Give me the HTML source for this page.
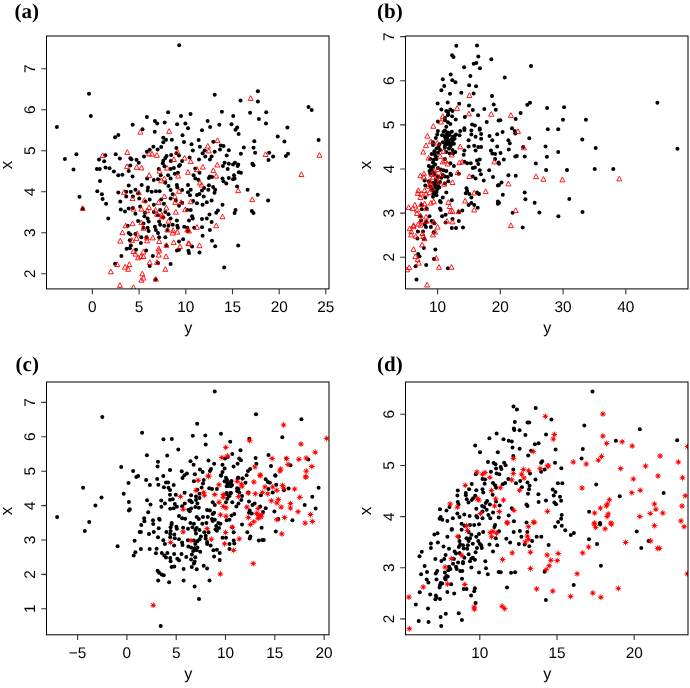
<!DOCTYPE html>
<html><head><meta charset="utf-8"><title>Scatter plots</title>
<style>
html,body{margin:0;padding:0;background:#fff}
svg{display:block;text-rendering:geometricPrecision}
.t{font-family:"Liberation Sans",Arial,Helvetica,sans-serif;font-size:15.4px;fill:#000}
.l{font-family:"Liberation Sans",Arial,Helvetica,sans-serif;font-size:17px;fill:#000}
.p{font-family:"Liberation Serif","Times New Roman",Times,serif;font-weight:bold;font-size:21px;fill:#000}
.f{fill:none;stroke:#000;stroke-width:1}
.tk{fill:none;stroke:#333;stroke-width:1.1}
.k{fill:#000}
.r{fill:none;stroke:#f00;stroke-width:0.9}
.s{fill:none;stroke:#f00;stroke-width:0.9}
.sc{fill:#f00}
</style></head><body>
<svg width="690" height="688" viewBox="0 0 690 688">
<rect width="690" height="688" fill="#fff"/>
<defs>
<clipPath id="ca"><rect x="46.5" y="36" width="282.5" height="252.9"/></clipPath>
<clipPath id="cb"><rect x="405.5" y="36" width="282.5" height="252.9"/></clipPath>
<clipPath id="cc"><rect x="46.5" y="382" width="282.5" height="252.8"/></clipPath>
<clipPath id="cd"><rect x="405.5" y="382" width="282.5" height="252.8"/></clipPath>
</defs>
<g id="panel-a">
<g clip-path="url(#ca)">
<circle class="k" cx="179.2" cy="45.3" r="2.0"/><circle class="k" cx="89" cy="93.7" r="2.0"/><circle class="k" cx="90.8" cy="115.9" r="2.0"/><circle class="k" cx="56.9" cy="127" r="2.0"/><circle class="k" cx="168.1" cy="112.3" r="2.0"/><circle class="k" cx="181" cy="115.9" r="2.0"/><circle class="k" cx="146.9" cy="117.1" r="2.0"/><circle class="k" cx="154.9" cy="120.9" r="2.0"/><circle class="k" cx="157.2" cy="123.4" r="2.0"/><circle class="k" cx="164.7" cy="122.4" r="2.0"/><circle class="k" cx="177.1" cy="124.3" r="2.0"/><circle class="k" cx="185.4" cy="123.4" r="2.0"/><circle class="k" cx="188" cy="128.2" r="2.0"/><circle class="k" cx="132.7" cy="124.7" r="2.0"/><circle class="k" cx="142.5" cy="129.3" r="2.0"/><circle class="k" cx="154.7" cy="131.8" r="2.0"/><circle class="k" cx="118.3" cy="134.9" r="2.0"/><circle class="k" cx="115.1" cy="137.2" r="2.0"/><circle class="k" cx="163.3" cy="137.7" r="2.0"/><circle class="k" cx="166" cy="139.7" r="2.0"/><circle class="k" cx="163.3" cy="142.3" r="2.0"/><circle class="k" cx="171.8" cy="139.7" r="2.0"/><circle class="k" cx="182.5" cy="135.3" r="2.0"/><circle class="k" cx="184" cy="142" r="2.0"/><circle class="k" cx="153.4" cy="146.7" r="2.0"/><circle class="k" cx="161.2" cy="147.1" r="2.0"/><circle class="k" cx="157.6" cy="149.6" r="2.0"/><circle class="k" cx="149.7" cy="149.8" r="2.0"/><circle class="k" cx="146.9" cy="151.7" r="2.0"/><circle class="k" cx="176.4" cy="148.1" r="2.0"/><circle class="k" cx="76.4" cy="154.2" r="2.0"/><circle class="k" cx="64.9" cy="159" r="2.0"/><circle class="k" cx="105.3" cy="155.2" r="2.0"/><circle class="k" cx="115.7" cy="154.2" r="2.0"/><circle class="k" cx="99" cy="159.6" r="2.0"/><circle class="k" cx="104.2" cy="161.3" r="2.0"/><circle class="k" cx="119.9" cy="158.4" r="2.0"/><circle class="k" cx="130.4" cy="158.2" r="2.0"/><circle class="k" cx="131.4" cy="159.2" r="2.0"/><circle class="k" cx="136.5" cy="159.8" r="2.0"/><circle class="k" cx="138.8" cy="162.8" r="2.0"/><circle class="k" cx="144" cy="156.5" r="2.0"/><circle class="k" cx="166.6" cy="156.1" r="2.0"/><circle class="k" cx="171.2" cy="155" r="2.0"/><circle class="k" cx="165.3" cy="158" r="2.0"/><circle class="k" cx="163.3" cy="160.7" r="2.0"/><circle class="k" cx="162.8" cy="163.2" r="2.0"/><circle class="k" cx="170.8" cy="161.1" r="2.0"/><circle class="k" cx="179" cy="155.4" r="2.0"/><circle class="k" cx="176.4" cy="153.3" r="2.0"/><circle class="k" cx="182.1" cy="161.1" r="2.0"/><circle class="k" cx="180" cy="164.9" r="2.0"/><circle class="k" cx="73.5" cy="169.5" r="2.0"/><circle class="k" cx="96.9" cy="169" r="2.0"/><circle class="k" cx="99.8" cy="169" r="2.0"/><circle class="k" cx="105.5" cy="167.4" r="2.0"/><circle class="k" cx="109.5" cy="168.2" r="2.0"/><circle class="k" cx="113.9" cy="171.6" r="2.0"/><circle class="k" cx="130.2" cy="165.5" r="2.0"/><circle class="k" cx="128.7" cy="171.1" r="2.0"/><circle class="k" cx="122.4" cy="174.7" r="2.0"/><circle class="k" cx="118.3" cy="175.3" r="2.0"/><circle class="k" cx="132.5" cy="176.4" r="2.0"/><circle class="k" cx="164.5" cy="166.3" r="2.0"/><circle class="k" cx="170.6" cy="169" r="2.0"/><circle class="k" cx="173.9" cy="168" r="2.0"/><circle class="k" cx="179" cy="165.9" r="2.0"/><circle class="k" cx="158.7" cy="169" r="2.0"/><circle class="k" cx="160.7" cy="175.3" r="2.0"/><circle class="k" cx="168.1" cy="175.3" r="2.0"/><circle class="k" cx="174.8" cy="173.7" r="2.0"/><circle class="k" cx="177.9" cy="172.8" r="2.0"/><circle class="k" cx="257.9" cy="91.2" r="2.0"/><circle class="k" cx="214.7" cy="94.7" r="2.0"/><circle class="k" cx="240.5" cy="100.4" r="2.0"/><circle class="k" cx="257.9" cy="101.4" r="2.0"/><circle class="k" cx="308.5" cy="106.9" r="2.0"/><circle class="k" cx="311.7" cy="110" r="2.0"/><circle class="k" cx="190.5" cy="114" r="2.0"/><circle class="k" cx="221.9" cy="111.7" r="2.0"/><circle class="k" cx="250.1" cy="112.7" r="2.0"/><circle class="k" cx="266.2" cy="112.3" r="2.0"/><circle class="k" cx="233.2" cy="115.9" r="2.0"/><circle class="k" cx="258.9" cy="119" r="2.0"/><circle class="k" cx="266" cy="123.4" r="2.0"/><circle class="k" cx="207.6" cy="120.9" r="2.0"/><circle class="k" cx="210.1" cy="127" r="2.0"/><circle class="k" cx="219.3" cy="124.7" r="2.0"/><circle class="k" cx="231.5" cy="124.3" r="2.0"/><circle class="k" cx="237.1" cy="127.6" r="2.0"/><circle class="k" cx="235.5" cy="129.7" r="2.0"/><circle class="k" cx="238.6" cy="133.9" r="2.0"/><circle class="k" cx="202" cy="130.3" r="2.0"/><circle class="k" cx="287.4" cy="127.6" r="2.0"/><circle class="k" cx="277.7" cy="136.6" r="2.0"/><circle class="k" cx="284.4" cy="141.4" r="2.0"/><circle class="k" cx="318.6" cy="140" r="2.0"/><circle class="k" cx="198.6" cy="140" r="2.0"/><circle class="k" cx="191.5" cy="144.3" r="2.0"/><circle class="k" cx="199.9" cy="146.7" r="2.0"/><circle class="k" cx="192.8" cy="150.6" r="2.0"/><circle class="k" cx="213.3" cy="141.8" r="2.0"/><circle class="k" cx="220.8" cy="145.6" r="2.0"/><circle class="k" cx="223.5" cy="146" r="2.0"/><circle class="k" cx="228.8" cy="150.2" r="2.0"/><circle class="k" cx="220" cy="149.6" r="2.0"/><circle class="k" cx="214.7" cy="151.7" r="2.0"/><circle class="k" cx="204.7" cy="150.6" r="2.0"/><circle class="k" cx="202.6" cy="153.3" r="2.0"/><circle class="k" cx="205.3" cy="156.5" r="2.0"/><circle class="k" cx="199" cy="159.6" r="2.0"/><circle class="k" cx="211.6" cy="156.5" r="2.0"/><circle class="k" cx="209.9" cy="159.6" r="2.0"/><circle class="k" cx="226.7" cy="155.4" r="2.0"/><circle class="k" cx="243.8" cy="147.5" r="2.0"/><circle class="k" cx="240.9" cy="153.8" r="2.0"/><circle class="k" cx="254.3" cy="141.2" r="2.0"/><circle class="k" cx="253.5" cy="147.7" r="2.0"/><circle class="k" cx="255.1" cy="152.7" r="2.0"/><circle class="k" cx="269.2" cy="152.7" r="2.0"/><circle class="k" cx="273.1" cy="156.5" r="2.0"/><circle class="k" cx="268.5" cy="160" r="2.0"/><circle class="k" cx="288" cy="153.8" r="2.0"/><circle class="k" cx="285.9" cy="156.1" r="2.0"/><circle class="k" cx="252.4" cy="163.8" r="2.0"/><circle class="k" cx="253.5" cy="165.3" r="2.0"/><circle class="k" cx="224.6" cy="162.8" r="2.0"/><circle class="k" cx="228.8" cy="163.8" r="2.0"/><circle class="k" cx="233" cy="164.4" r="2.0"/><circle class="k" cx="235" cy="162.8" r="2.0"/><circle class="k" cx="238.2" cy="164.4" r="2.0"/><circle class="k" cx="237.6" cy="166.1" r="2.0"/><circle class="k" cx="222.9" cy="165.9" r="2.0"/><circle class="k" cx="227.7" cy="169" r="2.0"/><circle class="k" cx="238.8" cy="172.2" r="2.0"/><circle class="k" cx="240.9" cy="172.8" r="2.0"/><circle class="k" cx="234" cy="175.3" r="2.0"/><circle class="k" cx="195.3" cy="168.6" r="2.0"/><circle class="k" cx="199.5" cy="172.8" r="2.0"/><circle class="k" cx="193.6" cy="175.3" r="2.0"/><circle class="k" cx="209.9" cy="176.4" r="2.0"/><circle class="k" cx="189.6" cy="157.5" r="2.0"/><circle class="k" cx="82.7" cy="208.7" r="2.0"/><circle class="k" cx="100" cy="181.1" r="2.0"/><circle class="k" cx="79.5" cy="196.8" r="2.0"/><circle class="k" cx="97.3" cy="191.2" r="2.0"/><circle class="k" cx="101.9" cy="194.3" r="2.0"/><circle class="k" cx="102.6" cy="198.9" r="2.0"/><circle class="k" cx="106.1" cy="203.7" r="2.0"/><circle class="k" cx="108.2" cy="218.4" r="2.0"/><circle class="k" cx="118.3" cy="192.6" r="2.0"/><circle class="k" cx="120.3" cy="201.6" r="2.0"/><circle class="k" cx="120.8" cy="209.6" r="2.0"/><circle class="k" cx="125" cy="211.5" r="2.0"/><circle class="k" cx="128.7" cy="185.5" r="2.0"/><circle class="k" cx="126.2" cy="191.8" r="2.0"/><circle class="k" cx="130.8" cy="191.8" r="2.0"/><circle class="k" cx="135.4" cy="189.7" r="2.0"/><circle class="k" cx="138.1" cy="193.3" r="2.0"/><circle class="k" cx="141.7" cy="184.9" r="2.0"/><circle class="k" cx="147.1" cy="178.6" r="2.0"/><circle class="k" cx="148" cy="187.6" r="2.0"/><circle class="k" cx="147.6" cy="190.5" r="2.0"/><circle class="k" cx="151.7" cy="191.8" r="2.0"/><circle class="k" cx="155.9" cy="191.2" r="2.0"/><circle class="k" cx="159.7" cy="191.2" r="2.0"/><circle class="k" cx="153.8" cy="180.1" r="2.0"/><circle class="k" cx="158" cy="179.2" r="2.0"/><circle class="k" cx="165.3" cy="182.8" r="2.0"/><circle class="k" cx="168.5" cy="185.9" r="2.0"/><circle class="k" cx="170.6" cy="190.1" r="2.0"/><circle class="k" cx="172.7" cy="194.3" r="2.0"/><circle class="k" cx="176.9" cy="184.9" r="2.0"/><circle class="k" cx="177.3" cy="187.6" r="2.0"/><circle class="k" cx="182.1" cy="190.1" r="2.0"/><circle class="k" cx="188" cy="184.9" r="2.0"/><circle class="k" cx="188" cy="192.2" r="2.0"/><circle class="k" cx="126.2" cy="196.4" r="2.0"/><circle class="k" cx="132.9" cy="196.4" r="2.0"/><circle class="k" cx="139.2" cy="198.5" r="2.0"/><circle class="k" cx="145.5" cy="201.6" r="2.0"/><circle class="k" cx="149.7" cy="199.5" r="2.0"/><circle class="k" cx="153.8" cy="204.8" r="2.0"/><circle class="k" cx="161.2" cy="199.5" r="2.0"/><circle class="k" cx="163.9" cy="203.7" r="2.0"/><circle class="k" cx="170.6" cy="198.5" r="2.0"/><circle class="k" cx="175.8" cy="200.6" r="2.0"/><circle class="k" cx="179" cy="205.8" r="2.0"/><circle class="k" cx="182.1" cy="202.7" r="2.0"/><circle class="k" cx="128.7" cy="208.5" r="2.0"/><circle class="k" cx="132.9" cy="207.9" r="2.0"/><circle class="k" cx="135.4" cy="213.8" r="2.0"/><circle class="k" cx="140.2" cy="206.4" r="2.0"/><circle class="k" cx="145" cy="212.7" r="2.0"/><circle class="k" cx="144.4" cy="216.3" r="2.0"/><circle class="k" cx="147.6" cy="218.4" r="2.0"/><circle class="k" cx="148.6" cy="221.5" r="2.0"/><circle class="k" cx="143.4" cy="223.6" r="2.0"/><circle class="k" cx="147.6" cy="227.8" r="2.0"/><circle class="k" cx="148.6" cy="230.9" r="2.0"/><circle class="k" cx="143.4" cy="227.8" r="2.0"/><circle class="k" cx="138.1" cy="221.1" r="2.0"/><circle class="k" cx="141.3" cy="237.2" r="2.0"/><circle class="k" cx="127.7" cy="225.7" r="2.0"/><circle class="k" cx="128.7" cy="233" r="2.0"/><circle class="k" cx="130.4" cy="234.5" r="2.0"/><circle class="k" cx="135.4" cy="234.1" r="2.0"/><circle class="k" cx="129.8" cy="240.3" r="2.0"/><circle class="k" cx="130.8" cy="245.6" r="2.0"/><circle class="k" cx="126.6" cy="248.7" r="2.0"/><circle class="k" cx="129.8" cy="248.3" r="2.0"/><circle class="k" cx="136" cy="249.8" r="2.0"/><circle class="k" cx="121.4" cy="256" r="2.0"/><circle class="k" cx="115.1" cy="263.8" r="2.0"/><circle class="k" cx="140.9" cy="242.9" r="2.0"/><circle class="k" cx="146.5" cy="237.2" r="2.0"/><circle class="k" cx="146.1" cy="250.4" r="2.0"/><circle class="k" cx="152.8" cy="256" r="2.0"/><circle class="k" cx="149.7" cy="266.1" r="2.0"/><circle class="k" cx="158" cy="263" r="2.0"/><circle class="k" cx="170.6" cy="264" r="2.0"/><circle class="k" cx="155.5" cy="279.5" r="2.0"/><circle class="k" cx="153.8" cy="212.1" r="2.0"/><circle class="k" cx="158" cy="215.2" r="2.0"/><circle class="k" cx="160.1" cy="210" r="2.0"/><circle class="k" cx="163.3" cy="217.3" r="2.0"/><circle class="k" cx="165.3" cy="212.1" r="2.0"/><circle class="k" cx="168.5" cy="214.2" r="2.0"/><circle class="k" cx="170.6" cy="218.4" r="2.0"/><circle class="k" cx="159.1" cy="221.5" r="2.0"/><circle class="k" cx="160.1" cy="224.7" r="2.0"/><circle class="k" cx="154.9" cy="226.7" r="2.0"/><circle class="k" cx="155.9" cy="229.9" r="2.0"/><circle class="k" cx="158" cy="233" r="2.0"/><circle class="k" cx="159.1" cy="237.2" r="2.0"/><circle class="k" cx="164.3" cy="225.7" r="2.0"/><circle class="k" cx="167.4" cy="229.9" r="2.0"/><circle class="k" cx="165.3" cy="237.2" r="2.0"/><circle class="k" cx="168.5" cy="225.7" r="2.0"/><circle class="k" cx="172.7" cy="224.7" r="2.0"/><circle class="k" cx="176.9" cy="220.5" r="2.0"/><circle class="k" cx="177.3" cy="225.7" r="2.0"/><circle class="k" cx="177.9" cy="227.8" r="2.0"/><circle class="k" cx="184.2" cy="226.7" r="2.0"/><circle class="k" cx="187.3" cy="227.8" r="2.0"/><circle class="k" cx="166.4" cy="245.6" r="2.0"/><circle class="k" cx="179" cy="241.4" r="2.0"/><circle class="k" cx="183.1" cy="239.3" r="2.0"/><circle class="k" cx="176.9" cy="250.4" r="2.0"/><circle class="k" cx="179" cy="249.8" r="2.0"/><circle class="k" cx="188.4" cy="250.8" r="2.0"/><circle class="k" cx="188" cy="230.9" r="2.0"/><circle class="k" cx="170.6" cy="178.6" r="2.0"/><circle class="k" cx="187.3" cy="210" r="2.0"/><circle class="k" cx="195.3" cy="178.6" r="2.0"/><circle class="k" cx="198.4" cy="179.7" r="2.0"/><circle class="k" cx="208.9" cy="178" r="2.0"/><circle class="k" cx="212" cy="177.1" r="2.0"/><circle class="k" cx="222.5" cy="178.6" r="2.0"/><circle class="k" cx="223.5" cy="181.3" r="2.0"/><circle class="k" cx="226.3" cy="183.4" r="2.0"/><circle class="k" cx="228.8" cy="178" r="2.0"/><circle class="k" cx="233" cy="179.2" r="2.0"/><circle class="k" cx="234.6" cy="178.6" r="2.0"/><circle class="k" cx="208.9" cy="185.3" r="2.0"/><circle class="k" cx="213.1" cy="187" r="2.0"/><circle class="k" cx="215.2" cy="189.7" r="2.0"/><circle class="k" cx="214.5" cy="192.8" r="2.0"/><circle class="k" cx="208.3" cy="189.7" r="2.0"/><circle class="k" cx="204.1" cy="188" r="2.0"/><circle class="k" cx="202" cy="190.5" r="2.0"/><circle class="k" cx="199.5" cy="193.9" r="2.0"/><circle class="k" cx="197" cy="194.9" r="2.0"/><circle class="k" cx="203.7" cy="196.4" r="2.0"/><circle class="k" cx="190.7" cy="189.7" r="2.0"/><circle class="k" cx="190" cy="195.3" r="2.0"/><circle class="k" cx="237.1" cy="186.6" r="2.0"/><circle class="k" cx="247.6" cy="189.7" r="2.0"/><circle class="k" cx="257.7" cy="194.7" r="2.0"/><circle class="k" cx="268.1" cy="200.6" r="2.0"/><circle class="k" cx="193.2" cy="201" r="2.0"/><circle class="k" cx="197" cy="203.3" r="2.0"/><circle class="k" cx="202.6" cy="204.8" r="2.0"/><circle class="k" cx="206.8" cy="202.3" r="2.0"/><circle class="k" cx="211.6" cy="200.6" r="2.0"/><circle class="k" cx="222.5" cy="204.8" r="2.0"/><circle class="k" cx="190.7" cy="210" r="2.0"/><circle class="k" cx="217.9" cy="210.6" r="2.0"/><circle class="k" cx="216.2" cy="212.7" r="2.0"/><circle class="k" cx="235.5" cy="210" r="2.0"/><circle class="k" cx="234.6" cy="213.1" r="2.0"/><circle class="k" cx="251.8" cy="211" r="2.0"/><circle class="k" cx="253.5" cy="213.1" r="2.0"/><circle class="k" cx="209.5" cy="214.6" r="2.0"/><circle class="k" cx="192.1" cy="216.3" r="2.0"/><circle class="k" cx="192.8" cy="218.4" r="2.0"/><circle class="k" cx="202" cy="219" r="2.0"/><circle class="k" cx="206.8" cy="218.4" r="2.0"/><circle class="k" cx="211.6" cy="221.9" r="2.0"/><circle class="k" cx="209.9" cy="229.9" r="2.0"/><circle class="k" cx="202" cy="227.2" r="2.0"/><circle class="k" cx="194.2" cy="227.8" r="2.0"/><circle class="k" cx="202.6" cy="235.7" r="2.0"/><circle class="k" cx="212" cy="240.8" r="2.0"/><circle class="k" cx="215.2" cy="246.2" r="2.0"/><circle class="k" cx="238.2" cy="245.6" r="2.0"/><circle class="k" cx="192.1" cy="246.6" r="2.0"/><circle class="k" cx="199.5" cy="252.5" r="2.0"/><circle class="k" cx="224.2" cy="267.6" r="2.0"/><circle class="k" cx="189" cy="220.5" r="2.0"/><circle class="k" cx="189" cy="252.9" r="2.0"/>
<path class="r" d="M140.4 129.4l2.5 4.7h-5z"/><path class="r" d="M169.1 128.6l2.5 4.7h-5z"/><path class="r" d="M102.6 152.8l2.5 4.7h-5z"/><path class="r" d="M127.3 149.7l2.5 4.7h-5z"/><path class="r" d="M149 151.2l2.5 4.7h-5z"/><path class="r" d="M152 151.4l2.5 4.7h-5z"/><path class="r" d="M156.8 152.6l2.5 4.7h-5z"/><path class="r" d="M177.5 149.3l2.5 4.7h-5z"/><path class="r" d="M173.9 156.8l2.5 4.7h-5z"/><path class="r" d="M184.6 155.4l2.5 4.7h-5z"/><path class="r" d="M127 163.9l2.5 4.7h-5z"/><path class="r" d="M136.7 164.6l2.5 4.7h-5z"/><path class="r" d="M141.5 165.2l2.5 4.7h-5z"/><path class="r" d="M167 165.4l2.5 4.7h-5z"/><path class="r" d="M159.5 168.5l2.5 4.7h-5z"/><path class="r" d="M149.2 172.7l2.5 4.7h-5z"/><path class="r" d="M178.1 173.4l2.5 4.7h-5z"/><path class="r" d="M188 169.6l2.5 4.7h-5z"/><path class="r" d="M250.7 95.7l2.5 4.7h-5z"/><path class="r" d="M217.5 137.8l2.5 4.7h-5z"/><path class="r" d="M207.8 143.4l2.5 4.7h-5z"/><path class="r" d="M208.9 148.2l2.5 4.7h-5z"/><path class="r" d="M265.6 151.8l2.5 4.7h-5z"/><path class="r" d="M319.4 152.6l2.5 4.7h-5z"/><path class="r" d="M190.7 158.9l2.5 4.7h-5z"/><path class="r" d="M202.8 164.4l2.5 4.7h-5z"/><path class="r" d="M197 166.9l2.5 4.7h-5z"/><path class="r" d="M217.3 162.3l2.5 4.7h-5z"/><path class="r" d="M213.3 167.9l2.5 4.7h-5z"/><path class="r" d="M216.2 173.4l2.5 4.7h-5z"/><path class="r" d="M82.7 205.7l2.5 4.7h-5z"/><path class="r" d="M124.1 189.6l2.5 4.7h-5z"/><path class="r" d="M132.5 195.9l2.5 4.7h-5z"/><path class="r" d="M138.8 190l2.5 4.7h-5z"/><path class="r" d="M144.4 197.6l2.5 4.7h-5z"/><path class="r" d="M161.2 178.1l2.5 4.7h-5z"/><path class="r" d="M164.3 176l2.5 4.7h-5z"/><path class="r" d="M179 188.6l2.5 4.7h-5z"/><path class="r" d="M164.3 193.8l2.5 4.7h-5z"/><path class="r" d="M174.8 193.8l2.5 4.7h-5z"/><path class="r" d="M158.7 199.7l2.5 4.7h-5z"/><path class="r" d="M166.4 205.3l2.5 4.7h-5z"/><path class="r" d="M175.2 199.7l2.5 4.7h-5z"/><path class="r" d="M181 199.7l2.5 4.7h-5z"/><path class="r" d="M185.2 207l2.5 4.7h-5z"/><path class="r" d="M133.5 206.4l2.5 4.7h-5z"/><path class="r" d="M141.3 206.4l2.5 4.7h-5z"/><path class="r" d="M147.1 208l2.5 4.7h-5z"/><path class="r" d="M149 204.9l2.5 4.7h-5z"/><path class="r" d="M155.5 207.4l2.5 4.7h-5z"/><path class="r" d="M157 211.6l2.5 4.7h-5z"/><path class="r" d="M161.8 212.2l2.5 4.7h-5z"/><path class="r" d="M162.2 214.3l2.5 4.7h-5z"/><path class="r" d="M175.8 209.5l2.5 4.7h-5z"/><path class="r" d="M168.5 218.5l2.5 4.7h-5z"/><path class="r" d="M132.5 221l2.5 4.7h-5z"/><path class="r" d="M125.6 223.1l2.5 4.7h-5z"/><path class="r" d="M141.3 220l2.5 4.7h-5z"/><path class="r" d="M143.4 225.6l2.5 4.7h-5z"/><path class="r" d="M122.4 230l2.5 4.7h-5z"/><path class="r" d="M137.1 231.1l2.5 4.7h-5z"/><path class="r" d="M120.3 238.4l2.5 4.7h-5z"/><path class="r" d="M131.9 237.7l2.5 4.7h-5z"/><path class="r" d="M136.5 235.7l2.5 4.7h-5z"/><path class="r" d="M146.9 235.2l2.5 4.7h-5z"/><path class="r" d="M147.1 238.2l2.5 4.7h-5z"/><path class="r" d="M152.8 235.2l2.5 4.7h-5z"/><path class="r" d="M159.1 238.8l2.5 4.7h-5z"/><path class="r" d="M166.4 242.6l2.5 4.7h-5z"/><path class="r" d="M173.7 239.8l2.5 4.7h-5z"/><path class="r" d="M180 244l2.5 4.7h-5z"/><path class="r" d="M172.7 230.4l2.5 4.7h-5z"/><path class="r" d="M177.3 229.4l2.5 4.7h-5z"/><path class="r" d="M167.4 227.3l2.5 4.7h-5z"/><path class="r" d="M173.1 227.7l2.5 4.7h-5z"/><path class="r" d="M187.3 227.3l2.5 4.7h-5z"/><path class="r" d="M188.4 240.9l2.5 4.7h-5z"/><path class="r" d="M133.5 248.8l2.5 4.7h-5z"/><path class="r" d="M135.4 251.4l2.5 4.7h-5z"/><path class="r" d="M143.4 249.3l2.5 4.7h-5z"/><path class="r" d="M140.9 253.9l2.5 4.7h-5z"/><path class="r" d="M138.1 255.1l2.5 4.7h-5z"/><path class="r" d="M143.4 253.9l2.5 4.7h-5z"/><path class="r" d="M158.7 246.1l2.5 4.7h-5z"/><path class="r" d="M159.1 248.2l2.5 4.7h-5z"/><path class="r" d="M158.7 252.4l2.5 4.7h-5z"/><path class="r" d="M166 253.9l2.5 4.7h-5z"/><path class="r" d="M149.7 259.7l2.5 4.7h-5z"/><path class="r" d="M157 259.7l2.5 4.7h-5z"/><path class="r" d="M117.2 261.8l2.5 4.7h-5z"/><path class="r" d="M129.3 261.8l2.5 4.7h-5z"/><path class="r" d="M125 264.5l2.5 4.7h-5z"/><path class="r" d="M128.1 266.6l2.5 4.7h-5z"/><path class="r" d="M110.9 269.1l2.5 4.7h-5z"/><path class="r" d="M165.3 266.6l2.5 4.7h-5z"/><path class="r" d="M142.3 271.2l2.5 4.7h-5z"/><path class="r" d="M143.4 275.4l2.5 4.7h-5z"/><path class="r" d="M141.3 277.5l2.5 4.7h-5z"/><path class="r" d="M155.9 276.5l2.5 4.7h-5z"/><path class="r" d="M119.9 282.7l2.5 4.7h-5z"/><path class="r" d="M133.5 284.8l2.5 4.7h-5z"/><path class="r" d="M301.4 171.8l2.5 4.7h-5z"/><path class="r" d="M238.2 187.9l2.5 4.7h-5z"/><path class="r" d="M252.2 196.9l2.5 4.7h-5z"/><path class="r" d="M199.9 180.2l2.5 4.7h-5z"/><path class="r" d="M201.6 182.3l2.5 4.7h-5z"/><path class="r" d="M190.7 199l2.5 4.7h-5z"/><path class="r" d="M222.5 214.1l2.5 4.7h-5z"/><path class="r" d="M216.2 223.1l2.5 4.7h-5z"/><path class="r" d="M197 224.6l2.5 4.7h-5z"/><path class="r" d="M199.5 243l2.5 4.7h-5z"/><path class="r" d="M189 240.9l2.5 4.7h-5z"/><path class="r" d="M189 228.3l2.5 4.7h-5z"/>
</g>
<rect class="f" x="46.5" y="36" width="282.5" height="252.9"/>
<path class="tk" d="M92.4 288.9v5.3M139.1 288.9v5.3M185.8 288.9v5.3M232.5 288.9v5.3M279.2 288.9v5.3M325.8 288.9v5.3M46.5 273.7h-5.3M46.5 232.7h-5.3M46.5 191.7h-5.3M46.5 150.7h-5.3M46.5 109.7h-5.3M46.5 68.7h-5.3"/>
<text class="t" x="92.4" y="311.8" text-anchor="middle">0</text><text class="t" x="139.1" y="311.8" text-anchor="middle">5</text><text class="t" x="185.8" y="311.8" text-anchor="middle">10</text><text class="t" x="232.5" y="311.8" text-anchor="middle">15</text><text class="t" x="279.2" y="311.8" text-anchor="middle">20</text><text class="t" x="325.8" y="311.8" text-anchor="middle">25</text>
<text class="t" transform="translate(35.1 273.7) rotate(-90)" text-anchor="middle">2</text><text class="t" transform="translate(35.1 232.7) rotate(-90)" text-anchor="middle">3</text><text class="t" transform="translate(35.1 191.7) rotate(-90)" text-anchor="middle">4</text><text class="t" transform="translate(35.1 150.7) rotate(-90)" text-anchor="middle">5</text><text class="t" transform="translate(35.1 109.7) rotate(-90)" text-anchor="middle">6</text><text class="t" transform="translate(35.1 68.7) rotate(-90)" text-anchor="middle">7</text>
<text class="l" style="font-size:16.2px" x="188.25" y="333.4" text-anchor="middle">y</text>
<text class="l" transform="translate(11.9 164.95) rotate(-90)" text-anchor="middle">x</text>
<text class="p" x="14.4" y="17.6">(a)</text>
</g>
<g id="panel-b">
<g clip-path="url(#cb)">
<circle class="k" cx="456.3" cy="45.8" r="2.0"/><circle class="k" cx="477" cy="45.4" r="2.0"/><circle class="k" cx="452.1" cy="55.3" r="2.0"/><circle class="k" cx="453.5" cy="57" r="2.0"/><circle class="k" cx="478.3" cy="56.4" r="2.0"/><circle class="k" cx="491.3" cy="59.2" r="2.0"/><circle class="k" cx="473.7" cy="63.7" r="2.0"/><circle class="k" cx="476.3" cy="63" r="2.0"/><circle class="k" cx="464.1" cy="67.2" r="2.0"/><circle class="k" cx="479.9" cy="68.3" r="2.0"/><circle class="k" cx="450.7" cy="74.6" r="2.0"/><circle class="k" cx="470.4" cy="76" r="2.0"/><circle class="k" cx="442.8" cy="79.3" r="2.0"/><circle class="k" cx="452.3" cy="80.2" r="2.0"/><circle class="k" cx="455.5" cy="82.3" r="2.0"/><circle class="k" cx="444.2" cy="86" r="2.0"/><circle class="k" cx="469.1" cy="85.3" r="2.0"/><circle class="k" cx="476.1" cy="86.3" r="2.0"/><circle class="k" cx="441.4" cy="90.2" r="2.0"/><circle class="k" cx="450" cy="93.8" r="2.0"/><circle class="k" cx="461.3" cy="92.7" r="2.0"/><circle class="k" cx="473.6" cy="93.6" r="2.0"/><circle class="k" cx="492" cy="96.1" r="2.0"/><circle class="k" cx="437.6" cy="103.5" r="2.0"/><circle class="k" cx="447.7" cy="102.5" r="2.0"/><circle class="k" cx="459.2" cy="103.7" r="2.0"/><circle class="k" cx="469" cy="105.6" r="2.0"/><circle class="k" cx="493.7" cy="104.4" r="2.0"/><circle class="k" cx="441.4" cy="109.5" r="2.0"/><circle class="k" cx="450.4" cy="109.5" r="2.0"/><circle class="k" cx="446.3" cy="111.1" r="2.0"/><circle class="k" cx="447.9" cy="111.8" r="2.0"/><circle class="k" cx="452.5" cy="111.1" r="2.0"/><circle class="k" cx="472.8" cy="110" r="2.0"/><circle class="k" cx="484.3" cy="109" r="2.0"/><circle class="k" cx="495.8" cy="109.7" r="2.0"/><circle class="k" cx="447.7" cy="115.3" r="2.0"/><circle class="k" cx="452.1" cy="116.3" r="2.0"/><circle class="k" cx="464.8" cy="117.1" r="2.0"/><circle class="k" cx="478.1" cy="115.3" r="2.0"/><circle class="k" cx="455.7" cy="119.5" r="2.0"/><circle class="k" cx="486.7" cy="122" r="2.0"/><circle class="k" cx="444.9" cy="120.2" r="2.0"/><circle class="k" cx="447.9" cy="122.3" r="2.0"/><circle class="k" cx="450.4" cy="124" r="2.0"/><circle class="k" cx="437.9" cy="121.6" r="2.0"/><circle class="k" cx="472.1" cy="124.4" r="2.0"/><circle class="k" cx="474.9" cy="125.4" r="2.0"/><circle class="k" cx="498.6" cy="120.6" r="2.0"/><circle class="k" cx="446.3" cy="126.8" r="2.0"/><circle class="k" cx="464.4" cy="128.3" r="2.0"/><circle class="k" cx="479.7" cy="128.6" r="2.0"/><circle class="k" cx="448.3" cy="113.9" r="2.0"/><circle class="k" cx="444.9" cy="118.1" r="2.0"/><circle class="k" cx="443.5" cy="131.8" r="2.0"/><circle class="k" cx="446.3" cy="134.6" r="2.0"/><circle class="k" cx="449.7" cy="133.2" r="2.0"/><circle class="k" cx="447" cy="138.1" r="2.0"/><circle class="k" cx="449" cy="142.3" r="2.0"/><circle class="k" cx="444.9" cy="145.7" r="2.0"/><circle class="k" cx="450.4" cy="146.4" r="2.0"/><circle class="k" cx="452.5" cy="140.9" r="2.0"/><circle class="k" cx="454.6" cy="136" r="2.0"/><circle class="k" cx="442.8" cy="142.3" r="2.0"/><circle class="k" cx="439.3" cy="144.3" r="2.0"/><circle class="k" cx="438.6" cy="147.1" r="2.0"/><circle class="k" cx="434.4" cy="151.3" r="2.0"/><circle class="k" cx="435.8" cy="156.2" r="2.0"/><circle class="k" cx="433" cy="162.5" r="2.0"/><circle class="k" cx="435.1" cy="164.6" r="2.0"/><circle class="k" cx="431.6" cy="169.5" r="2.0"/><circle class="k" cx="433" cy="172.3" r="2.0"/><circle class="k" cx="435.8" cy="179.9" r="2.0"/><circle class="k" cx="434.4" cy="184.8" r="2.0"/><circle class="k" cx="437.2" cy="189" r="2.0"/><circle class="k" cx="434.4" cy="192.5" r="2.0"/><circle class="k" cx="433.7" cy="194.6" r="2.0"/><circle class="k" cx="431.6" cy="189" r="2.0"/><circle class="k" cx="437.9" cy="185.5" r="2.0"/><circle class="k" cx="441.4" cy="177.8" r="2.0"/><circle class="k" cx="444.9" cy="176.4" r="2.0"/><circle class="k" cx="446.3" cy="170.9" r="2.0"/><circle class="k" cx="437.9" cy="131.1" r="2.0"/><circle class="k" cx="444.9" cy="130.4" r="2.0"/><circle class="k" cx="447.7" cy="132.5" r="2.0"/><circle class="k" cx="451.8" cy="131.8" r="2.0"/><circle class="k" cx="460.2" cy="131.1" r="2.0"/><circle class="k" cx="464.4" cy="130.1" r="2.0"/><circle class="k" cx="471.4" cy="130.4" r="2.0"/><circle class="k" cx="479.7" cy="129.7" r="2.0"/><circle class="k" cx="437.2" cy="134.6" r="2.0"/><circle class="k" cx="442.1" cy="135.3" r="2.0"/><circle class="k" cx="444.9" cy="136.7" r="2.0"/><circle class="k" cx="449" cy="135.3" r="2.0"/><circle class="k" cx="452.5" cy="136.7" r="2.0"/><circle class="k" cx="456" cy="134.6" r="2.0"/><circle class="k" cx="459.5" cy="135.3" r="2.0"/><circle class="k" cx="471.4" cy="134.6" r="2.0"/><circle class="k" cx="481.1" cy="133.9" r="2.0"/><circle class="k" cx="489.5" cy="136" r="2.0"/><circle class="k" cx="497.2" cy="134.3" r="2.0"/><circle class="k" cx="435.8" cy="138.1" r="2.0"/><circle class="k" cx="445.6" cy="139.5" r="2.0"/><circle class="k" cx="447.7" cy="140.9" r="2.0"/><circle class="k" cx="451.1" cy="139.5" r="2.0"/><circle class="k" cx="454.6" cy="138.8" r="2.0"/><circle class="k" cx="468.6" cy="140.2" r="2.0"/><circle class="k" cx="475.6" cy="136.7" r="2.0"/><circle class="k" cx="481.1" cy="138.8" r="2.0"/><circle class="k" cx="492.3" cy="140.2" r="2.0"/><circle class="k" cx="433" cy="142.3" r="2.0"/><circle class="k" cx="445.6" cy="143" r="2.0"/><circle class="k" cx="447.7" cy="144.3" r="2.0"/><circle class="k" cx="451.1" cy="144.3" r="2.0"/><circle class="k" cx="453.9" cy="143.7" r="2.0"/><circle class="k" cx="468.6" cy="146.4" r="2.0"/><circle class="k" cx="474.2" cy="145.7" r="2.0"/><circle class="k" cx="478.3" cy="147.1" r="2.0"/><circle class="k" cx="481.1" cy="146.9" r="2.0"/><circle class="k" cx="497.2" cy="146.4" r="2.0"/><circle class="k" cx="433" cy="145" r="2.0"/><circle class="k" cx="436.5" cy="148.5" r="2.0"/><circle class="k" cx="440" cy="149.9" r="2.0"/><circle class="k" cx="444.9" cy="147.8" r="2.0"/><circle class="k" cx="449" cy="148.5" r="2.0"/><circle class="k" cx="452.5" cy="149.9" r="2.0"/><circle class="k" cx="464.4" cy="150.6" r="2.0"/><circle class="k" cx="475.6" cy="150.6" r="2.0"/><circle class="k" cx="490.9" cy="150.6" r="2.0"/><circle class="k" cx="492.3" cy="153.4" r="2.0"/><circle class="k" cx="495.1" cy="154.1" r="2.0"/><circle class="k" cx="431.6" cy="154.1" r="2.0"/><circle class="k" cx="434.4" cy="154.1" r="2.0"/><circle class="k" cx="437.9" cy="152.7" r="2.0"/><circle class="k" cx="446.3" cy="152" r="2.0"/><circle class="k" cx="449.7" cy="153.4" r="2.0"/><circle class="k" cx="453.2" cy="153.4" r="2.0"/><circle class="k" cx="455.3" cy="152" r="2.0"/><circle class="k" cx="463.7" cy="154.8" r="2.0"/><circle class="k" cx="430.2" cy="159" r="2.0"/><circle class="k" cx="433.7" cy="159.7" r="2.0"/><circle class="k" cx="436.5" cy="159" r="2.0"/><circle class="k" cx="444.9" cy="159" r="2.0"/><circle class="k" cx="450.4" cy="163.2" r="2.0"/><circle class="k" cx="453.9" cy="166" r="2.0"/><circle class="k" cx="464.4" cy="161.8" r="2.0"/><circle class="k" cx="467.2" cy="163.2" r="2.0"/><circle class="k" cx="470.7" cy="163.2" r="2.0"/><circle class="k" cx="477" cy="160.4" r="2.0"/><circle class="k" cx="479.7" cy="159.4" r="2.0"/><circle class="k" cx="478.3" cy="163.9" r="2.0"/><circle class="k" cx="495.1" cy="159" r="2.0"/><circle class="k" cx="498.6" cy="162.5" r="2.0"/><circle class="k" cx="428.8" cy="166" r="2.0"/><circle class="k" cx="430.9" cy="167.4" r="2.0"/><circle class="k" cx="433" cy="166.7" r="2.0"/><circle class="k" cx="437.9" cy="168.1" r="2.0"/><circle class="k" cx="440.7" cy="169.5" r="2.0"/><circle class="k" cx="443.5" cy="170.2" r="2.0"/><circle class="k" cx="472.8" cy="168.1" r="2.0"/><circle class="k" cx="474.9" cy="167.4" r="2.0"/><circle class="k" cx="479.7" cy="170.2" r="2.0"/><circle class="k" cx="489.2" cy="170.2" r="2.0"/><circle class="k" cx="429.5" cy="170.9" r="2.0"/><circle class="k" cx="430.2" cy="173.7" r="2.0"/><circle class="k" cx="434.4" cy="174.3" r="2.0"/><circle class="k" cx="437.9" cy="176.4" r="2.0"/><circle class="k" cx="442.8" cy="175" r="2.0"/><circle class="k" cx="447.7" cy="177.1" r="2.0"/><circle class="k" cx="450.4" cy="173.7" r="2.0"/><circle class="k" cx="451.1" cy="175" r="2.0"/><circle class="k" cx="458.8" cy="173.7" r="2.0"/><circle class="k" cx="472.8" cy="176.4" r="2.0"/><circle class="k" cx="475.6" cy="178.5" r="2.0"/><circle class="k" cx="480.9" cy="174.3" r="2.0"/><circle class="k" cx="483.7" cy="180.6" r="2.0"/><circle class="k" cx="493" cy="177.1" r="2.0"/><circle class="k" cx="424.6" cy="180.6" r="2.0"/><circle class="k" cx="428.8" cy="181.3" r="2.0"/><circle class="k" cx="433" cy="182.7" r="2.0"/><circle class="k" cx="436.5" cy="183.4" r="2.0"/><circle class="k" cx="440" cy="182" r="2.0"/><circle class="k" cx="444.9" cy="183.4" r="2.0"/><circle class="k" cx="448.3" cy="181.3" r="2.0"/><circle class="k" cx="425.3" cy="185.5" r="2.0"/><circle class="k" cx="430.2" cy="186.2" r="2.0"/><circle class="k" cx="435.1" cy="186.9" r="2.0"/><circle class="k" cx="439.3" cy="187.6" r="2.0"/><circle class="k" cx="466.5" cy="188.3" r="2.0"/><circle class="k" cx="467.2" cy="191.1" r="2.0"/><circle class="k" cx="465.8" cy="193.2" r="2.0"/><circle class="k" cx="469.3" cy="193.9" r="2.0"/><circle class="k" cx="471.4" cy="197.4" r="2.0"/><circle class="k" cx="477" cy="192.5" r="2.0"/><circle class="k" cx="479" cy="193.9" r="2.0"/><circle class="k" cx="433" cy="190.4" r="2.0"/><circle class="k" cx="436.5" cy="191.8" r="2.0"/><circle class="k" cx="435.8" cy="193.9" r="2.0"/><circle class="k" cx="446.3" cy="192.5" r="2.0"/><circle class="k" cx="425.3" cy="197.4" r="2.0"/><circle class="k" cx="433" cy="196.7" r="2.0"/><circle class="k" cx="436.5" cy="195.3" r="2.0"/><circle class="k" cx="442.8" cy="197.4" r="2.0"/><circle class="k" cx="440" cy="200.9" r="2.0"/><circle class="k" cx="440.7" cy="202.3" r="2.0"/><circle class="k" cx="451.8" cy="200.2" r="2.0"/><circle class="k" cx="471.4" cy="203" r="2.0"/><circle class="k" cx="468.6" cy="205" r="2.0"/><circle class="k" cx="474.2" cy="205" r="2.0"/><circle class="k" cx="477.7" cy="207.8" r="2.0"/><circle class="k" cx="497.9" cy="185.5" r="2.0"/><circle class="k" cx="497.9" cy="201.6" r="2.0"/><circle class="k" cx="497.9" cy="203.7" r="2.0"/><circle class="k" cx="421.8" cy="205" r="2.0"/><circle class="k" cx="426.7" cy="208.5" r="2.0"/><circle class="k" cx="421.8" cy="209.2" r="2.0"/><circle class="k" cx="440" cy="208.5" r="2.0"/><circle class="k" cx="440.7" cy="209.9" r="2.0"/><circle class="k" cx="462.3" cy="210.6" r="2.0"/><circle class="k" cx="458.8" cy="212" r="2.0"/><circle class="k" cx="442.1" cy="216.2" r="2.0"/><circle class="k" cx="445.6" cy="214.8" r="2.0"/><circle class="k" cx="452.5" cy="219" r="2.0"/><circle class="k" cx="458.8" cy="221.1" r="2.0"/><circle class="k" cx="429.5" cy="216.2" r="2.0"/><circle class="k" cx="420.4" cy="216.2" r="2.0"/><circle class="k" cx="421.1" cy="220.4" r="2.0"/><circle class="k" cx="426" cy="221.8" r="2.0"/><circle class="k" cx="431.6" cy="221.1" r="2.0"/><circle class="k" cx="424.6" cy="224.6" r="2.0"/><circle class="k" cx="434.4" cy="223.2" r="2.0"/><circle class="k" cx="445.6" cy="222.5" r="2.0"/><circle class="k" cx="426" cy="227" r="2.0"/><circle class="k" cx="430.9" cy="227" r="2.0"/><circle class="k" cx="451.8" cy="228.1" r="2.0"/><circle class="k" cx="456" cy="228.1" r="2.0"/><circle class="k" cx="463" cy="227.4" r="2.0"/><circle class="k" cx="417.9" cy="231.6" r="2.0"/><circle class="k" cx="423" cy="231.6" r="2.0"/><circle class="k" cx="433.7" cy="232.3" r="2.0"/><circle class="k" cx="417.4" cy="238.6" r="2.0"/><circle class="k" cx="423.9" cy="239" r="2.0"/><circle class="k" cx="423.9" cy="248" r="2.0"/><circle class="k" cx="435.4" cy="249.6" r="2.0"/><circle class="k" cx="418.1" cy="254" r="2.0"/><circle class="k" cx="419.5" cy="256.3" r="2.0"/><circle class="k" cx="434" cy="259.1" r="2.0"/><circle class="k" cx="415.6" cy="266.2" r="2.0"/><circle class="k" cx="426.2" cy="265.1" r="2.0"/><circle class="k" cx="447.9" cy="268.2" r="2.0"/><circle class="k" cx="416.5" cy="279.5" r="2.0"/><circle class="k" cx="531" cy="65.9" r="2.0"/><circle class="k" cx="504.7" cy="77.6" r="2.0"/><circle class="k" cx="530" cy="102.7" r="2.0"/><circle class="k" cx="527.3" cy="104.8" r="2.0"/><circle class="k" cx="547.1" cy="107.9" r="2.0"/><circle class="k" cx="564.1" cy="107.3" r="2.0"/><circle class="k" cx="520.6" cy="113" r="2.0"/><circle class="k" cx="515.7" cy="119" r="2.0"/><circle class="k" cx="500.3" cy="120.3" r="2.0"/><circle class="k" cx="563" cy="119.7" r="2.0"/><circle class="k" cx="585.9" cy="119.7" r="2.0"/><circle class="k" cx="512" cy="128.2" r="2.0"/><circle class="k" cx="514.7" cy="131" r="2.0"/><circle class="k" cx="515.3" cy="133.5" r="2.0"/><circle class="k" cx="502.6" cy="132" r="2.0"/><circle class="k" cx="547.8" cy="129.3" r="2.0"/><circle class="k" cx="558.2" cy="129.3" r="2.0"/><circle class="k" cx="508.4" cy="140.2" r="2.0"/><circle class="k" cx="509.9" cy="143.3" r="2.0"/><circle class="k" cx="529.3" cy="138.3" r="2.0"/><circle class="k" cx="582.3" cy="139.5" r="2.0"/><circle class="k" cx="508.8" cy="149.4" r="2.0"/><circle class="k" cx="523.1" cy="147.1" r="2.0"/><circle class="k" cx="545.5" cy="146.4" r="2.0"/><circle class="k" cx="595.7" cy="147.9" r="2.0"/><circle class="k" cx="500.5" cy="153.1" r="2.0"/><circle class="k" cx="558.2" cy="152.1" r="2.0"/><circle class="k" cx="515.3" cy="156.5" r="2.0"/><circle class="k" cx="516.8" cy="156.1" r="2.0"/><circle class="k" cx="524.7" cy="156.5" r="2.0"/><circle class="k" cx="546.9" cy="156.7" r="2.0"/><circle class="k" cx="503.8" cy="159.6" r="2.0"/><circle class="k" cx="499" cy="163.8" r="2.0"/><circle class="k" cx="535.8" cy="163.6" r="2.0"/><circle class="k" cx="546.1" cy="170.1" r="2.0"/><circle class="k" cx="567" cy="170.1" r="2.0"/><circle class="k" cx="594.7" cy="169" r="2.0"/><circle class="k" cx="613.3" cy="169" r="2.0"/><circle class="k" cx="508.4" cy="175.3" r="2.0"/><circle class="k" cx="515.7" cy="175.7" r="2.0"/><circle class="k" cx="501.5" cy="182.6" r="2.0"/><circle class="k" cx="502.8" cy="194.7" r="2.0"/><circle class="k" cx="524.7" cy="192.4" r="2.0"/><circle class="k" cx="525.4" cy="199.3" r="2.0"/><circle class="k" cx="534.6" cy="202.7" r="2.0"/><circle class="k" cx="569.3" cy="198.9" r="2.0"/><circle class="k" cx="539.4" cy="212.5" r="2.0"/><circle class="k" cx="512.6" cy="212.7" r="2.0"/><circle class="k" cx="558.4" cy="216.3" r="2.0"/><circle class="k" cx="582.5" cy="211.9" r="2.0"/><circle class="k" cx="522.7" cy="227.6" r="2.0"/><circle class="k" cx="499" cy="184.9" r="2.0"/><circle class="k" cx="499" cy="202.7" r="2.0"/><circle class="k" cx="657.4" cy="102.8" r="2.0"/><circle class="k" cx="677.4" cy="148.8" r="2.0"/>
<path class="r" d="M469.4 92.8l2.5 4.7h-5z"/><path class="r" d="M457.1 105.7l2.5 4.7h-5z"/><path class="r" d="M468.9 111.1l2.5 4.7h-5z"/><path class="r" d="M491.2 111.6l2.5 4.7h-5z"/><path class="r" d="M442.8 113.7l2.5 4.7h-5z"/><path class="r" d="M441 119.3l2.5 4.7h-5z"/><path class="r" d="M433.3 123.6l2.5 4.7h-5z"/><path class="r" d="M427.4 133.4l2.5 4.7h-5z"/><path class="r" d="M430.9 139l2.5 4.7h-5z"/><path class="r" d="M437.2 140.4l2.5 4.7h-5z"/><path class="r" d="M426 142.9l2.5 4.7h-5z"/><path class="r" d="M423.2 149.4l2.5 4.7h-5z"/><path class="r" d="M443.5 148.7l2.5 4.7h-5z"/><path class="r" d="M460.2 144.1l2.5 4.7h-5z"/><path class="r" d="M451.8 152.2l2.5 4.7h-5z"/><path class="r" d="M440 153.6l2.5 4.7h-5z"/><path class="r" d="M428.5 155.4l2.5 4.7h-5z"/><path class="r" d="M442.8 159.2l2.5 4.7h-5z"/><path class="r" d="M444.9 158.2l2.5 4.7h-5z"/><path class="r" d="M447.7 161.3l2.5 4.7h-5z"/><path class="r" d="M459.5 159.9l2.5 4.7h-5z"/><path class="r" d="M462.3 159.2l2.5 4.7h-5z"/><path class="r" d="M494.4 159.2l2.5 4.7h-5z"/><path class="r" d="M437.9 166.9l2.5 4.7h-5z"/><path class="r" d="M434.4 168.3l2.5 4.7h-5z"/><path class="r" d="M423.9 171.1l2.5 4.7h-5z"/><path class="r" d="M420.4 173.1l2.5 4.7h-5z"/><path class="r" d="M423.9 174.5l2.5 4.7h-5z"/><path class="r" d="M431.6 171.7l2.5 4.7h-5z"/><path class="r" d="M433 174.5l2.5 4.7h-5z"/><path class="r" d="M437.2 173.8l2.5 4.7h-5z"/><path class="r" d="M441.4 171.7l2.5 4.7h-5z"/><path class="r" d="M457.7 169.9l2.5 4.7h-5z"/><path class="r" d="M469.3 173.8l2.5 4.7h-5z"/><path class="r" d="M430.2 178.7l2.5 4.7h-5z"/><path class="r" d="M438.6 179.4l2.5 4.7h-5z"/><path class="r" d="M444.2 181.5l2.5 4.7h-5z"/><path class="r" d="M452.5 179.8l2.5 4.7h-5z"/><path class="r" d="M430.9 181.5l2.5 4.7h-5z"/><path class="r" d="M428.8 183.6l2.5 4.7h-5z"/><path class="r" d="M432.3 185.7l2.5 4.7h-5z"/><path class="r" d="M418.3 187.8l2.5 4.7h-5z"/><path class="r" d="M424.6 187.8l2.5 4.7h-5z"/><path class="r" d="M417.7 190.6l2.5 4.7h-5z"/><path class="r" d="M421.1 191.3l2.5 4.7h-5z"/><path class="r" d="M426 191.3l2.5 4.7h-5z"/><path class="r" d="M429.5 189.9l2.5 4.7h-5z"/><path class="r" d="M420.4 194.8l2.5 4.7h-5z"/><path class="r" d="M474.2 190.3l2.5 4.7h-5z"/><path class="r" d="M485.7 188.9l2.5 4.7h-5z"/><path class="r" d="M465.1 198.3l2.5 4.7h-5z"/><path class="r" d="M448.3 199.7l2.5 4.7h-5z"/><path class="r" d="M430.9 200.4l2.5 4.7h-5z"/><path class="r" d="M433.7 199l2.5 4.7h-5z"/><path class="r" d="M424.6 201.1l2.5 4.7h-5z"/><path class="r" d="M421.1 201.7l2.5 4.7h-5z"/><path class="r" d="M414.9 202.4l2.5 4.7h-5z"/><path class="r" d="M408.6 204.8l2.5 4.7h-5z"/><path class="r" d="M412.8 205.9l2.5 4.7h-5z"/><path class="r" d="M417 207.3l2.5 4.7h-5z"/><path class="r" d="M426 205.9l2.5 4.7h-5z"/><path class="r" d="M449.7 203.8l2.5 4.7h-5z"/><path class="r" d="M450.4 208.7l2.5 4.7h-5z"/><path class="r" d="M452.5 208.7l2.5 4.7h-5z"/><path class="r" d="M458.5 209l2.5 4.7h-5z"/><path class="r" d="M474.2 207.3l2.5 4.7h-5z"/><path class="r" d="M417 210.8l2.5 4.7h-5z"/><path class="r" d="M420.4 212.9l2.5 4.7h-5z"/><path class="r" d="M426 214.3l2.5 4.7h-5z"/><path class="r" d="M421.1 218.5l2.5 4.7h-5z"/><path class="r" d="M426.7 218.5l2.5 4.7h-5z"/><path class="r" d="M433.7 219.2l2.5 4.7h-5z"/><path class="r" d="M447 218.5l2.5 4.7h-5z"/><path class="r" d="M452.5 219.2l2.5 4.7h-5z"/><path class="r" d="M413.5 222.7l2.5 4.7h-5z"/><path class="r" d="M418.3 221.3l2.5 4.7h-5z"/><path class="r" d="M413.5 223.9l2.5 4.7h-5z"/><path class="r" d="M409.7 226l2.5 4.7h-5z"/><path class="r" d="M420.4 222.5l2.5 4.7h-5z"/><path class="r" d="M437.6 224.4l2.5 4.7h-5z"/><path class="r" d="M411.4 229l2.5 4.7h-5z"/><path class="r" d="M411 232.2l2.5 4.7h-5z"/><path class="r" d="M422.5 230.8l2.5 4.7h-5z"/><path class="r" d="M435.1 229.4l2.5 4.7h-5z"/><path class="r" d="M433 232.2l2.5 4.7h-5z"/><path class="r" d="M415.8 233.6l2.5 4.7h-5z"/><path class="r" d="M423.2 233.9l2.5 4.7h-5z"/><path class="r" d="M424.6 236l2.5 4.7h-5z"/><path class="r" d="M422.1 242.3l2.5 4.7h-5z"/><path class="r" d="M413.5 246.7l2.5 4.7h-5z"/><path class="r" d="M415.3 253.9l2.5 4.7h-5z"/><path class="r" d="M417.7 256.9l2.5 4.7h-5z"/><path class="r" d="M436.2 255.5l2.5 4.7h-5z"/><path class="r" d="M418.8 260.4l2.5 4.7h-5z"/><path class="r" d="M409.3 264.9l2.5 4.7h-5z"/><path class="r" d="M407.2 267.1l2.5 4.7h-5z"/><path class="r" d="M439 264.6l2.5 4.7h-5z"/><path class="r" d="M451.4 264.6l2.5 4.7h-5z"/><path class="r" d="M427.1 282.3l2.5 4.7h-5z"/><path class="r" d="M510.9 112.7l2.5 4.7h-5z"/><path class="r" d="M518 128.8l2.5 4.7h-5z"/><path class="r" d="M523.9 145.1l2.5 4.7h-5z"/><path class="r" d="M536 173.9l2.5 4.7h-5z"/><path class="r" d="M543.4 176.6l2.5 4.7h-5z"/><path class="r" d="M562.4 177.1l2.5 4.7h-5z"/><path class="r" d="M619.3 176.2l2.5 4.7h-5z"/><path class="r" d="M508.4 181.2l2.5 4.7h-5z"/><path class="r" d="M515.7 207.8l2.5 4.7h-5z"/><path class="r" d="M510.9 222.9l2.5 4.7h-5z"/>
</g>
<rect class="f" x="405.5" y="36" width="282.5" height="252.9"/>
<path class="tk" d="M437.6 288.9v5.3M500.3 288.9v5.3M563.1 288.9v5.3M625.8 288.9v5.3M405.5 257.2h-5.3M405.5 213.1h-5.3M405.5 169h-5.3M405.5 124.9h-5.3M405.5 80.7h-5.3M405.5 36.6h-5.3"/>
<text class="t" x="437.6" y="311.8" text-anchor="middle">10</text><text class="t" x="500.3" y="311.8" text-anchor="middle">20</text><text class="t" x="563.1" y="311.8" text-anchor="middle">30</text><text class="t" x="625.8" y="311.8" text-anchor="middle">40</text>
<text class="t" transform="translate(394.1 257.2) rotate(-90)" text-anchor="middle">2</text><text class="t" transform="translate(394.1 213.1) rotate(-90)" text-anchor="middle">3</text><text class="t" transform="translate(394.1 169) rotate(-90)" text-anchor="middle">4</text><text class="t" transform="translate(394.1 124.9) rotate(-90)" text-anchor="middle">5</text><text class="t" transform="translate(394.1 80.7) rotate(-90)" text-anchor="middle">6</text><text class="t" transform="translate(394.1 36.6) rotate(-90)" text-anchor="middle">7</text>
<text class="l" style="font-size:16.2px" x="547.25" y="333.4" text-anchor="middle">y</text>
<text class="l" transform="translate(370.9 164.95) rotate(-90)" text-anchor="middle">x</text>
<text class="p" x="377" y="17.6">(b)</text>
</g>
<g id="panel-c">
<g clip-path="url(#cc)">
<circle class="k" cx="102.3" cy="416.9" r="2.0"/><circle class="k" cx="142.1" cy="432.8" r="2.0"/><circle class="k" cx="163.5" cy="439.3" r="2.0"/><circle class="k" cx="171.8" cy="438.9" r="2.0"/><circle class="k" cx="178.3" cy="449.5" r="2.0"/><circle class="k" cx="146.9" cy="455.2" r="2.0"/><circle class="k" cx="167.2" cy="455.4" r="2.0"/><circle class="k" cx="158" cy="461.7" r="2.0"/><circle class="k" cx="157.6" cy="466.5" r="2.0"/><circle class="k" cx="121.2" cy="466.9" r="2.0"/><circle class="k" cx="133.1" cy="471.1" r="2.0"/><circle class="k" cx="170" cy="470" r="2.0"/><circle class="k" cx="181.7" cy="471.3" r="2.0"/><circle class="k" cx="186.9" cy="473.6" r="2.0"/><circle class="k" cx="184.4" cy="475.3" r="2.0"/><circle class="k" cx="182.5" cy="478" r="2.0"/><circle class="k" cx="138.1" cy="475.9" r="2.0"/><circle class="k" cx="136.3" cy="477" r="2.0"/><circle class="k" cx="163.3" cy="475.9" r="2.0"/><circle class="k" cx="157.2" cy="479" r="2.0"/><circle class="k" cx="146.1" cy="479.9" r="2.0"/><circle class="k" cx="128.5" cy="483" r="2.0"/><circle class="k" cx="149.9" cy="484.9" r="2.0"/><circle class="k" cx="158.4" cy="484.7" r="2.0"/><circle class="k" cx="166" cy="482.4" r="2.0"/><circle class="k" cx="168.1" cy="482.4" r="2.0"/><circle class="k" cx="173.7" cy="485.1" r="2.0"/><circle class="k" cx="163.9" cy="487.2" r="2.0"/><circle class="k" cx="168.5" cy="487.8" r="2.0"/><circle class="k" cx="170" cy="489.9" r="2.0"/><circle class="k" cx="83.1" cy="487.8" r="2.0"/><circle class="k" cx="123.7" cy="493.7" r="2.0"/><circle class="k" cx="184.6" cy="492.7" r="2.0"/><circle class="k" cx="170" cy="494.7" r="2.0"/><circle class="k" cx="175.8" cy="494.7" r="2.0"/><circle class="k" cx="101.5" cy="497.5" r="2.0"/><circle class="k" cx="147.1" cy="500.2" r="2.0"/><circle class="k" cx="161.2" cy="500.4" r="2.0"/><circle class="k" cx="164.9" cy="503.5" r="2.0"/><circle class="k" cx="170" cy="499.8" r="2.0"/><circle class="k" cx="172.7" cy="499.3" r="2.0"/><circle class="k" cx="128.9" cy="501.9" r="2.0"/><circle class="k" cx="150.5" cy="504.6" r="2.0"/><circle class="k" cx="161.4" cy="506.7" r="2.0"/><circle class="k" cx="174.8" cy="504" r="2.0"/><circle class="k" cx="176.9" cy="506.7" r="2.0"/><circle class="k" cx="182.1" cy="506.3" r="2.0"/><circle class="k" cx="184.8" cy="503.5" r="2.0"/><circle class="k" cx="189.4" cy="500.4" r="2.0"/><circle class="k" cx="95.4" cy="505.4" r="2.0"/><circle class="k" cx="129.8" cy="509.2" r="2.0"/><circle class="k" cx="128.9" cy="510.4" r="2.0"/><circle class="k" cx="148.2" cy="512.3" r="2.0"/><circle class="k" cx="170.2" cy="508.8" r="2.0"/><circle class="k" cx="173.7" cy="508.3" r="2.0"/><circle class="k" cx="179" cy="516.1" r="2.0"/><circle class="k" cx="182.1" cy="518.2" r="2.0"/><circle class="k" cx="185.2" cy="518.8" r="2.0"/><circle class="k" cx="57.1" cy="517.1" r="2.0"/><circle class="k" cx="89.2" cy="522" r="2.0"/><circle class="k" cx="144.2" cy="518.2" r="2.0"/><circle class="k" cx="144.4" cy="521.3" r="2.0"/><circle class="k" cx="153" cy="520.3" r="2.0"/><circle class="k" cx="159.1" cy="518.8" r="2.0"/><circle class="k" cx="159.7" cy="519.7" r="2.0"/><circle class="k" cx="171.6" cy="523" r="2.0"/><circle class="k" cx="188.4" cy="509.8" r="2.0"/><circle class="k" cx="214.7" cy="391.6" r="2.0"/><circle class="k" cx="256" cy="414.2" r="2.0"/><circle class="k" cx="301.4" cy="419.2" r="2.0"/><circle class="k" cx="197.2" cy="423.8" r="2.0"/><circle class="k" cx="192.8" cy="435.7" r="2.0"/><circle class="k" cx="205.3" cy="435.5" r="2.0"/><circle class="k" cx="221" cy="433.8" r="2.0"/><circle class="k" cx="282.3" cy="437.2" r="2.0"/><circle class="k" cx="249.3" cy="438.7" r="2.0"/><circle class="k" cx="230.2" cy="441.8" r="2.0"/><circle class="k" cx="205.7" cy="444.5" r="2.0"/><circle class="k" cx="240.5" cy="450.2" r="2.0"/><circle class="k" cx="232.3" cy="453.9" r="2.0"/><circle class="k" cx="268.5" cy="455" r="2.0"/><circle class="k" cx="196.3" cy="457.5" r="2.0"/><circle class="k" cx="255.6" cy="457.9" r="2.0"/><circle class="k" cx="239.2" cy="458.5" r="2.0"/><circle class="k" cx="240.9" cy="460.2" r="2.0"/><circle class="k" cx="208.5" cy="460.6" r="2.0"/><circle class="k" cx="190.5" cy="461.3" r="2.0"/><circle class="k" cx="227.7" cy="456.9" r="2.0"/><circle class="k" cx="225" cy="458.5" r="2.0"/><circle class="k" cx="286.3" cy="458.5" r="2.0"/><circle class="k" cx="308.3" cy="459.6" r="2.0"/><circle class="k" cx="214.1" cy="463.8" r="2.0"/><circle class="k" cx="222.5" cy="464.8" r="2.0"/><circle class="k" cx="237.6" cy="463.8" r="2.0"/><circle class="k" cx="256.4" cy="463.8" r="2.0"/><circle class="k" cx="271" cy="465.9" r="2.0"/><circle class="k" cx="290.5" cy="465.2" r="2.0"/><circle class="k" cx="193.6" cy="464.8" r="2.0"/><circle class="k" cx="233.6" cy="466.5" r="2.0"/><circle class="k" cx="224.6" cy="468.4" r="2.0"/><circle class="k" cx="211" cy="469" r="2.0"/><circle class="k" cx="209.9" cy="471.1" r="2.0"/><circle class="k" cx="199.9" cy="469.4" r="2.0"/><circle class="k" cx="202.6" cy="472.1" r="2.0"/><circle class="k" cx="250.1" cy="469" r="2.0"/><circle class="k" cx="248" cy="471.1" r="2.0"/><circle class="k" cx="222.5" cy="472.1" r="2.0"/><circle class="k" cx="221" cy="475.3" r="2.0"/><circle class="k" cx="275.2" cy="475.3" r="2.0"/><circle class="k" cx="242.4" cy="478.4" r="2.0"/><circle class="k" cx="246.6" cy="475.3" r="2.0"/><circle class="k" cx="238.2" cy="477.4" r="2.0"/><circle class="k" cx="194.9" cy="474.2" r="2.0"/><circle class="k" cx="193.9" cy="481.3" r="2.0"/><circle class="k" cx="203.7" cy="479.9" r="2.0"/><circle class="k" cx="203" cy="483.4" r="2.0"/><circle class="k" cx="201.6" cy="487.6" r="2.0"/><circle class="k" cx="197.4" cy="489.7" r="2.0"/><circle class="k" cx="226" cy="477.8" r="2.0"/><circle class="k" cx="224.6" cy="481.3" r="2.0"/><circle class="k" cx="227.4" cy="483.4" r="2.0"/><circle class="k" cx="230.9" cy="482" r="2.0"/><circle class="k" cx="228.8" cy="485.5" r="2.0"/><circle class="k" cx="226.7" cy="486.2" r="2.0"/><circle class="k" cx="230.9" cy="486.2" r="2.0"/><circle class="k" cx="237.8" cy="478.5" r="2.0"/><circle class="k" cx="242.7" cy="478.5" r="2.0"/><circle class="k" cx="245.5" cy="482.7" r="2.0"/><circle class="k" cx="209.2" cy="488.3" r="2.0"/><circle class="k" cx="212" cy="489" r="2.0"/><circle class="k" cx="216.9" cy="489" r="2.0"/><circle class="k" cx="199.5" cy="493.8" r="2.0"/><circle class="k" cx="196" cy="496.6" r="2.0"/><circle class="k" cx="191.1" cy="495.2" r="2.0"/><circle class="k" cx="190.4" cy="500.8" r="2.0"/><circle class="k" cx="191.8" cy="502.2" r="2.0"/><circle class="k" cx="196" cy="500.1" r="2.0"/><circle class="k" cx="199.5" cy="498" r="2.0"/><circle class="k" cx="197.4" cy="503.6" r="2.0"/><circle class="k" cx="195.3" cy="507.1" r="2.0"/><circle class="k" cx="198.8" cy="507.8" r="2.0"/><circle class="k" cx="191.1" cy="508.5" r="2.0"/><circle class="k" cx="189.7" cy="511.3" r="2.0"/><circle class="k" cx="226.7" cy="493.1" r="2.0"/><circle class="k" cx="230.9" cy="493.1" r="2.0"/><circle class="k" cx="229.5" cy="495.9" r="2.0"/><circle class="k" cx="227.4" cy="498.7" r="2.0"/><circle class="k" cx="226" cy="502.2" r="2.0"/><circle class="k" cx="232.3" cy="502.2" r="2.0"/><circle class="k" cx="237.1" cy="491" r="2.0"/><circle class="k" cx="239.2" cy="492.4" r="2.0"/><circle class="k" cx="242" cy="495.9" r="2.0"/><circle class="k" cx="241.3" cy="500.1" r="2.0"/><circle class="k" cx="238.5" cy="503.6" r="2.0"/><circle class="k" cx="236.4" cy="506.4" r="2.0"/><circle class="k" cx="212.7" cy="502.2" r="2.0"/><circle class="k" cx="214.8" cy="505" r="2.0"/><circle class="k" cx="207.1" cy="509.9" r="2.0"/><circle class="k" cx="209.9" cy="510.6" r="2.0"/><circle class="k" cx="214.1" cy="512.7" r="2.0"/><circle class="k" cx="212.7" cy="514.1" r="2.0"/><circle class="k" cx="196.7" cy="516.9" r="2.0"/><circle class="k" cx="198.8" cy="519" r="2.0"/><circle class="k" cx="203" cy="516.9" r="2.0"/><circle class="k" cx="207.8" cy="516.9" r="2.0"/><circle class="k" cx="212" cy="519" r="2.0"/><circle class="k" cx="214.8" cy="519.7" r="2.0"/><circle class="k" cx="212.7" cy="521" r="2.0"/><circle class="k" cx="218.3" cy="523.1" r="2.0"/><circle class="k" cx="220.4" cy="523.8" r="2.0"/><circle class="k" cx="216.2" cy="525.9" r="2.0"/><circle class="k" cx="219" cy="528" r="2.0"/><circle class="k" cx="215.5" cy="529.4" r="2.0"/><circle class="k" cx="216.9" cy="530.8" r="2.0"/><circle class="k" cx="206.4" cy="523.1" r="2.0"/><circle class="k" cx="202.3" cy="523.8" r="2.0"/><circle class="k" cx="193.9" cy="523.8" r="2.0"/><circle class="k" cx="190.4" cy="523.1" r="2.0"/><circle class="k" cx="192.5" cy="527.3" r="2.0"/><circle class="k" cx="196.7" cy="528" r="2.0"/><circle class="k" cx="195.3" cy="530.1" r="2.0"/><circle class="k" cx="199.5" cy="530.1" r="2.0"/><circle class="k" cx="196" cy="533.6" r="2.0"/><circle class="k" cx="204.3" cy="532.2" r="2.0"/><circle class="k" cx="208.5" cy="532.2" r="2.0"/><circle class="k" cx="200.9" cy="536.4" r="2.0"/><circle class="k" cx="199.5" cy="539.2" r="2.0"/><circle class="k" cx="205.7" cy="535.7" r="2.0"/><circle class="k" cx="205.7" cy="538.5" r="2.0"/><circle class="k" cx="207.1" cy="542" r="2.0"/><circle class="k" cx="207.1" cy="544.1" r="2.0"/><circle class="k" cx="210.6" cy="545.5" r="2.0"/><circle class="k" cx="197.4" cy="541.3" r="2.0"/><circle class="k" cx="193.9" cy="540.6" r="2.0"/><circle class="k" cx="195.3" cy="544.1" r="2.0"/><circle class="k" cx="197.4" cy="547.6" r="2.0"/><circle class="k" cx="194.6" cy="548.3" r="2.0"/><circle class="k" cx="191.1" cy="547.6" r="2.0"/><circle class="k" cx="193.2" cy="551" r="2.0"/><circle class="k" cx="196.7" cy="550.3" r="2.0"/><circle class="k" cx="200.2" cy="551.7" r="2.0"/><circle class="k" cx="191.8" cy="554.5" r="2.0"/><circle class="k" cx="195.3" cy="557.3" r="2.0"/><circle class="k" cx="191.1" cy="559.4" r="2.0"/><circle class="k" cx="194.6" cy="561.5" r="2.0"/><circle class="k" cx="193.9" cy="563.6" r="2.0"/><circle class="k" cx="191.8" cy="567.1" r="2.0"/><circle class="k" cx="196.7" cy="569.2" r="2.0"/><circle class="k" cx="203.7" cy="565.7" r="2.0"/><circle class="k" cx="207.1" cy="568.5" r="2.0"/><circle class="k" cx="213.4" cy="550.3" r="2.0"/><circle class="k" cx="216.9" cy="549.7" r="2.0"/><circle class="k" cx="219.7" cy="553.1" r="2.0"/><circle class="k" cx="214.1" cy="556.6" r="2.0"/><circle class="k" cx="219.7" cy="560.1" r="2.0"/><circle class="k" cx="222.5" cy="537.8" r="2.0"/><circle class="k" cx="226" cy="537.8" r="2.0"/><circle class="k" cx="229.5" cy="544.1" r="2.0"/><circle class="k" cx="229.5" cy="549" r="2.0"/><circle class="k" cx="233.7" cy="532.2" r="2.0"/><circle class="k" cx="233.7" cy="540.6" r="2.0"/><circle class="k" cx="234.3" cy="543.4" r="2.0"/><circle class="k" cx="231.6" cy="515.5" r="2.0"/><circle class="k" cx="234.3" cy="514.1" r="2.0"/><circle class="k" cx="226.7" cy="520.3" r="2.0"/><circle class="k" cx="229.5" cy="519.7" r="2.0"/><circle class="k" cx="242" cy="524.5" r="2.0"/><circle class="k" cx="247.3" cy="532.2" r="2.0"/><circle class="k" cx="250.4" cy="536.4" r="2.0"/><circle class="k" cx="249.7" cy="538.5" r="2.0"/><circle class="k" cx="258.8" cy="540.6" r="2.0"/><circle class="k" cx="262.3" cy="539.9" r="2.0"/><circle class="k" cx="263.7" cy="539.9" r="2.0"/><circle class="k" cx="261.6" cy="527.7" r="2.0"/><circle class="k" cx="275.8" cy="531.5" r="2.0"/><circle class="k" cx="274.4" cy="511.6" r="2.0"/><circle class="k" cx="265.7" cy="508.2" r="2.0"/><circle class="k" cx="260.2" cy="506.4" r="2.0"/><circle class="k" cx="263" cy="512" r="2.0"/><circle class="k" cx="254.6" cy="503.6" r="2.0"/><circle class="k" cx="252.5" cy="505" r="2.0"/><circle class="k" cx="249" cy="501.5" r="2.0"/><circle class="k" cx="249.7" cy="510.6" r="2.0"/><circle class="k" cx="249" cy="512.7" r="2.0"/><circle class="k" cx="251.8" cy="513.4" r="2.0"/><circle class="k" cx="265.7" cy="479.2" r="2.0"/><circle class="k" cx="267.8" cy="482" r="2.0"/><circle class="k" cx="269.9" cy="482.7" r="2.0"/><circle class="k" cx="275.5" cy="475.7" r="2.0"/><circle class="k" cx="276.2" cy="484.8" r="2.0"/><circle class="k" cx="268.5" cy="489" r="2.0"/><circle class="k" cx="272.7" cy="492.4" r="2.0"/><circle class="k" cx="260.9" cy="495.2" r="2.0"/><circle class="k" cx="278.3" cy="519" r="2.0"/><circle class="k" cx="283.9" cy="490.3" r="2.0"/><circle class="k" cx="221.1" cy="475.7" r="2.0"/><circle class="k" cx="248.3" cy="492.4" r="2.0"/><circle class="k" cx="232.3" cy="527.3" r="2.0"/><circle class="k" cx="237.1" cy="488.3" r="2.0"/><circle class="k" cx="238.5" cy="489" r="2.0"/><circle class="k" cx="227" cy="480" r="2.0"/><circle class="k" cx="229.5" cy="483" r="2.0"/><circle class="k" cx="231.5" cy="481" r="2.0"/><circle class="k" cx="232" cy="485" r="2.0"/><circle class="k" cx="228" cy="486" r="2.0"/><circle class="k" cx="226" cy="494" r="2.0"/><circle class="k" cx="228.5" cy="496" r="2.0"/><circle class="k" cx="230.5" cy="493" r="2.0"/><circle class="k" cx="288.6" cy="488.5" r="2.0"/><circle class="k" cx="318.6" cy="487.8" r="2.0"/><circle class="k" cx="312.3" cy="496.8" r="2.0"/><circle class="k" cx="304.7" cy="505" r="2.0"/><circle class="k" cx="315.6" cy="508.6" r="2.0"/><circle class="k" cx="292.4" cy="520.3" r="2.0"/><circle class="k" cx="84.8" cy="530.9" r="2.0"/><circle class="k" cx="117.6" cy="546.2" r="2.0"/><circle class="k" cx="141.3" cy="525" r="2.0"/><circle class="k" cx="139.6" cy="531.9" r="2.0"/><circle class="k" cx="140.9" cy="531.9" r="2.0"/><circle class="k" cx="134.6" cy="540.7" r="2.0"/><circle class="k" cx="140.9" cy="549.1" r="2.0"/><circle class="k" cx="135.4" cy="552.2" r="2.0"/><circle class="k" cx="133.7" cy="555.4" r="2.0"/><circle class="k" cx="153.2" cy="524" r="2.0"/><circle class="k" cx="158.7" cy="528.2" r="2.0"/><circle class="k" cx="153.8" cy="531.9" r="2.0"/><circle class="k" cx="149" cy="534" r="2.0"/><circle class="k" cx="158" cy="537.2" r="2.0"/><circle class="k" cx="149.7" cy="549.1" r="2.0"/><circle class="k" cx="156.6" cy="548.7" r="2.0"/><circle class="k" cx="155.9" cy="553.3" r="2.0"/><circle class="k" cx="161.8" cy="552.9" r="2.0"/><circle class="k" cx="166.4" cy="531.9" r="2.0"/><circle class="k" cx="170.6" cy="527.3" r="2.0"/><circle class="k" cx="171.6" cy="524.6" r="2.0"/><circle class="k" cx="176.4" cy="526.7" r="2.0"/><circle class="k" cx="176.9" cy="528.8" r="2.0"/><circle class="k" cx="170.6" cy="530.9" r="2.0"/><circle class="k" cx="170.2" cy="534" r="2.0"/><circle class="k" cx="174.3" cy="534.4" r="2.0"/><circle class="k" cx="170.2" cy="537.2" r="2.0"/><circle class="k" cx="174.8" cy="538.2" r="2.0"/><circle class="k" cx="163.3" cy="540.3" r="2.0"/><circle class="k" cx="164.9" cy="543.9" r="2.0"/><circle class="k" cx="174.1" cy="545.5" r="2.0"/><circle class="k" cx="179" cy="539.3" r="2.0"/><circle class="k" cx="182.1" cy="542.4" r="2.0"/><circle class="k" cx="182.5" cy="544.9" r="2.0"/><circle class="k" cx="188" cy="540.3" r="2.0"/><circle class="k" cx="188.4" cy="546.6" r="2.0"/><circle class="k" cx="183.1" cy="527.7" r="2.0"/><circle class="k" cx="188" cy="528.8" r="2.0"/><circle class="k" cx="167.4" cy="552.9" r="2.0"/><circle class="k" cx="164.3" cy="555.4" r="2.0"/><circle class="k" cx="166" cy="557.5" r="2.0"/><circle class="k" cx="170.2" cy="558.1" r="2.0"/><circle class="k" cx="170.6" cy="561.2" r="2.0"/><circle class="k" cx="174.1" cy="553.9" r="2.0"/><circle class="k" cx="181.5" cy="553.9" r="2.0"/><circle class="k" cx="177.3" cy="558.7" r="2.0"/><circle class="k" cx="179" cy="560.2" r="2.0"/><circle class="k" cx="186.3" cy="557" r="2.0"/><circle class="k" cx="171.6" cy="567.1" r="2.0"/><circle class="k" cx="174.3" cy="566.5" r="2.0"/><circle class="k" cx="183.6" cy="569" r="2.0"/><circle class="k" cx="157.6" cy="570.7" r="2.0"/><circle class="k" cx="159.1" cy="572.7" r="2.0"/><circle class="k" cx="161.6" cy="574.4" r="2.0"/><circle class="k" cx="163.7" cy="575.3" r="2.0"/><circle class="k" cx="158.2" cy="580.5" r="2.0"/><circle class="k" cx="169.1" cy="582.2" r="2.0"/><circle class="k" cx="183.6" cy="580.5" r="2.0"/><circle class="k" cx="160.7" cy="625.9" r="2.0"/><circle class="k" cx="209.5" cy="580.5" r="2.0"/><circle class="k" cx="194.6" cy="586.5" r="2.0"/><circle class="k" cx="199" cy="599.1" r="2.0"/>
<path class="s" d="M177.5 496.6h5.8m-2.9-2.9v5.8m-2.05-4.95l4.1 4.1m0-4.1l-4.1 4.1"/><circle class="sc" cx="180.4" cy="496.6" r="1.5"/><path class="s" d="M180.2 509.2h5.8m-2.9-2.9v5.8m-2.05-4.95l4.1 4.1m0-4.1l-4.1 4.1"/><circle class="sc" cx="183.1" cy="509.2" r="1.5"/><path class="s" d="M280.7 425h5.8m-2.9-2.9v5.8m-2.05-4.95l4.1 4.1m0-4.1l-4.1 4.1"/><circle class="sc" cx="283.6" cy="425" r="1.5"/><path class="s" d="M323.8 438.4h5.8m-2.9-2.9v5.8m-2.05-4.95l4.1 4.1m0-4.1l-4.1 4.1"/><circle class="sc" cx="326.7" cy="438.4" r="1.5"/><path class="s" d="M246.8 440.7h5.8m-2.9-2.9v5.8m-2.05-4.95l4.1 4.1m0-4.1l-4.1 4.1"/><circle class="sc" cx="249.7" cy="440.7" r="1.5"/><path class="s" d="M298.1 444.1h5.8m-2.9-2.9v5.8m-2.05-4.95l4.1 4.1m0-4.1l-4.1 4.1"/><circle class="sc" cx="301" cy="444.1" r="1.5"/><path class="s" d="M222.9 447.4h5.8m-2.9-2.9v5.8m-2.05-4.95l4.1 4.1m0-4.1l-4.1 4.1"/><circle class="sc" cx="225.8" cy="447.4" r="1.5"/><path class="s" d="M312.3 452.3h5.8m-2.9-2.9v5.8m-2.05-4.95l4.1 4.1m0-4.1l-4.1 4.1"/><circle class="sc" cx="315.2" cy="452.3" r="1.5"/><path class="s" d="M219 457.5h5.8m-2.9-2.9v5.8m-2.05-4.95l4.1 4.1m0-4.1l-4.1 4.1"/><circle class="sc" cx="221.9" cy="457.5" r="1.5"/><path class="s" d="M224.4 456h5.8m-2.9-2.9v5.8m-2.05-4.95l4.1 4.1m0-4.1l-4.1 4.1"/><circle class="sc" cx="227.3" cy="456" r="1.5"/><path class="s" d="M269.2 458.5h5.8m-2.9-2.9v5.8m-2.05-4.95l4.1 4.1m0-4.1l-4.1 4.1"/><circle class="sc" cx="272.1" cy="458.5" r="1.5"/><path class="s" d="M283.8 458.5h5.8m-2.9-2.9v5.8m-2.05-4.95l4.1 4.1m0-4.1l-4.1 4.1"/><circle class="sc" cx="286.7" cy="458.5" r="1.5"/><path class="s" d="M296 459.2h5.8m-2.9-2.9v5.8m-2.05-4.95l4.1 4.1m0-4.1l-4.1 4.1"/><circle class="sc" cx="298.9" cy="459.2" r="1.5"/><path class="s" d="M303.3 458.1h5.8m-2.9-2.9v5.8m-2.05-4.95l4.1 4.1m0-4.1l-4.1 4.1"/><circle class="sc" cx="306.2" cy="458.1" r="1.5"/><path class="s" d="M285.1 464.4h5.8m-2.9-2.9v5.8m-2.05-4.95l4.1 4.1m0-4.1l-4.1 4.1"/><circle class="sc" cx="288" cy="464.4" r="1.5"/><path class="s" d="M309 466.5h5.8m-2.9-2.9v5.8m-2.05-4.95l4.1 4.1m0-4.1l-4.1 4.1"/><circle class="sc" cx="311.9" cy="466.5" r="1.5"/><path class="s" d="M252 466.9h5.8m-2.9-2.9v5.8m-2.05-4.95l4.1 4.1m0-4.1l-4.1 4.1"/><circle class="sc" cx="254.9" cy="466.9" r="1.5"/><path class="s" d="M277.8 469h5.8m-2.9-2.9v5.8m-2.05-4.95l4.1 4.1m0-4.1l-4.1 4.1"/><circle class="sc" cx="280.7" cy="469" r="1.5"/><path class="s" d="M277.1 471.1h5.8m-2.9-2.9v5.8m-2.05-4.95l4.1 4.1m0-4.1l-4.1 4.1"/><circle class="sc" cx="280" cy="471.1" r="1.5"/><path class="s" d="M303.3 471.1h5.8m-2.9-2.9v5.8m-2.05-4.95l4.1 4.1m0-4.1l-4.1 4.1"/><circle class="sc" cx="306.2" cy="471.1" r="1.5"/><path class="s" d="M257.3 474.9h5.8m-2.9-2.9v5.8m-2.05-4.95l4.1 4.1m0-4.1l-4.1 4.1"/><circle class="sc" cx="260.2" cy="474.9" r="1.5"/><path class="s" d="M205.6 475.9h5.8m-2.9-2.9v5.8m-2.05-4.95l4.1 4.1m0-4.1l-4.1 4.1"/><circle class="sc" cx="208.5" cy="475.9" r="1.5"/><path class="s" d="M302.9 476.7h5.8m-2.9-2.9v5.8m-2.05-4.95l4.1 4.1m0-4.1l-4.1 4.1"/><circle class="sc" cx="305.8" cy="476.7" r="1.5"/><path class="s" d="M195.2 480.3h5.8m-2.9-2.9v5.8m-2.05-4.95l4.1 4.1m0-4.1l-4.1 4.1"/><circle class="sc" cx="198.1" cy="480.3" r="1.5"/><path class="s" d="M205.6 476.4h5.8m-2.9-2.9v5.8m-2.05-4.95l4.1 4.1m0-4.1l-4.1 4.1"/><circle class="sc" cx="208.5" cy="476.4" r="1.5"/><path class="s" d="M216.1 484.8h5.8m-2.9-2.9v5.8m-2.05-4.95l4.1 4.1m0-4.1l-4.1 4.1"/><circle class="sc" cx="219" cy="484.8" r="1.5"/><path class="s" d="M234.2 481.3h5.8m-2.9-2.9v5.8m-2.05-4.95l4.1 4.1m0-4.1l-4.1 4.1"/><circle class="sc" cx="237.1" cy="481.3" r="1.5"/><path class="s" d="M238.4 484.1h5.8m-2.9-2.9v5.8m-2.05-4.95l4.1 4.1m0-4.1l-4.1 4.1"/><circle class="sc" cx="241.3" cy="484.1" r="1.5"/><path class="s" d="M239.1 486.2h5.8m-2.9-2.9v5.8m-2.05-4.95l4.1 4.1m0-4.1l-4.1 4.1"/><circle class="sc" cx="242" cy="486.2" r="1.5"/><path class="s" d="M251 482h5.8m-2.9-2.9v5.8m-2.05-4.95l4.1 4.1m0-4.1l-4.1 4.1"/><circle class="sc" cx="253.9" cy="482" r="1.5"/><path class="s" d="M257.3 475.7h5.8m-2.9-2.9v5.8m-2.05-4.95l4.1 4.1m0-4.1l-4.1 4.1"/><circle class="sc" cx="260.2" cy="475.7" r="1.5"/><path class="s" d="M193.1 490.3h5.8m-2.9-2.9v5.8m-2.05-4.95l4.1 4.1m0-4.1l-4.1 4.1"/><circle class="sc" cx="196" cy="490.3" r="1.5"/><path class="s" d="M200.8 492.4h5.8m-2.9-2.9v5.8m-2.05-4.95l4.1 4.1m0-4.1l-4.1 4.1"/><circle class="sc" cx="203.7" cy="492.4" r="1.5"/><path class="s" d="M201.4 495.2h5.8m-2.9-2.9v5.8m-2.05-4.95l4.1 4.1m0-4.1l-4.1 4.1"/><circle class="sc" cx="204.3" cy="495.2" r="1.5"/><path class="s" d="M211.9 494.5h5.8m-2.9-2.9v5.8m-2.05-4.95l4.1 4.1m0-4.1l-4.1 4.1"/><circle class="sc" cx="214.8" cy="494.5" r="1.5"/><path class="s" d="M220.3 494.5h5.8m-2.9-2.9v5.8m-2.05-4.95l4.1 4.1m0-4.1l-4.1 4.1"/><circle class="sc" cx="223.2" cy="494.5" r="1.5"/><path class="s" d="M220.3 497.3h5.8m-2.9-2.9v5.8m-2.05-4.95l4.1 4.1m0-4.1l-4.1 4.1"/><circle class="sc" cx="223.2" cy="497.3" r="1.5"/><path class="s" d="M235.6 496.6h5.8m-2.9-2.9v5.8m-2.05-4.95l4.1 4.1m0-4.1l-4.1 4.1"/><circle class="sc" cx="238.5" cy="496.6" r="1.5"/><path class="s" d="M245.4 493.1h5.8m-2.9-2.9v5.8m-2.05-4.95l4.1 4.1m0-4.1l-4.1 4.1"/><circle class="sc" cx="248.3" cy="493.1" r="1.5"/><path class="s" d="M252.4 493.8h5.8m-2.9-2.9v5.8m-2.05-4.95l4.1 4.1m0-4.1l-4.1 4.1"/><circle class="sc" cx="255.3" cy="493.8" r="1.5"/><path class="s" d="M259.4 492.4h5.8m-2.9-2.9v5.8m-2.05-4.95l4.1 4.1m0-4.1l-4.1 4.1"/><circle class="sc" cx="262.3" cy="492.4" r="1.5"/><path class="s" d="M262.1 486.9h5.8m-2.9-2.9v5.8m-2.05-4.95l4.1 4.1m0-4.1l-4.1 4.1"/><circle class="sc" cx="265" cy="486.9" r="1.5"/><path class="s" d="M264.9 493.8h5.8m-2.9-2.9v5.8m-2.05-4.95l4.1 4.1m0-4.1l-4.1 4.1"/><circle class="sc" cx="267.8" cy="493.8" r="1.5"/><path class="s" d="M269.8 486.9h5.8m-2.9-2.9v5.8m-2.05-4.95l4.1 4.1m0-4.1l-4.1 4.1"/><circle class="sc" cx="272.7" cy="486.9" r="1.5"/><path class="s" d="M274 490.3h5.8m-2.9-2.9v5.8m-2.05-4.95l4.1 4.1m0-4.1l-4.1 4.1"/><circle class="sc" cx="276.9" cy="490.3" r="1.5"/><path class="s" d="M279.6 485.5h5.8m-2.9-2.9v5.8m-2.05-4.95l4.1 4.1m0-4.1l-4.1 4.1"/><circle class="sc" cx="282.5" cy="485.5" r="1.5"/><path class="s" d="M281 488.3h5.8m-2.9-2.9v5.8m-2.05-4.95l4.1 4.1m0-4.1l-4.1 4.1"/><circle class="sc" cx="283.9" cy="488.3" r="1.5"/><path class="s" d="M216.1 502.2h5.8m-2.9-2.9v5.8m-2.05-4.95l4.1 4.1m0-4.1l-4.1 4.1"/><circle class="sc" cx="219" cy="502.2" r="1.5"/><path class="s" d="M220.3 506.4h5.8m-2.9-2.9v5.8m-2.05-4.95l4.1 4.1m0-4.1l-4.1 4.1"/><circle class="sc" cx="223.2" cy="506.4" r="1.5"/><path class="s" d="M223.1 507.8h5.8m-2.9-2.9v5.8m-2.05-4.95l4.1 4.1m0-4.1l-4.1 4.1"/><circle class="sc" cx="226" cy="507.8" r="1.5"/><path class="s" d="M244 507.1h5.8m-2.9-2.9v5.8m-2.05-4.95l4.1 4.1m0-4.1l-4.1 4.1"/><circle class="sc" cx="246.9" cy="507.1" r="1.5"/><path class="s" d="M255.2 508.5h5.8m-2.9-2.9v5.8m-2.05-4.95l4.1 4.1m0-4.1l-4.1 4.1"/><circle class="sc" cx="258.1" cy="508.5" r="1.5"/><path class="s" d="M268.4 500.8h5.8m-2.9-2.9v5.8m-2.05-4.95l4.1 4.1m0-4.1l-4.1 4.1"/><circle class="sc" cx="271.3" cy="500.8" r="1.5"/><path class="s" d="M275.4 499.4h5.8m-2.9-2.9v5.8m-2.05-4.95l4.1 4.1m0-4.1l-4.1 4.1"/><circle class="sc" cx="278.3" cy="499.4" r="1.5"/><path class="s" d="M274 502.9h5.8m-2.9-2.9v5.8m-2.05-4.95l4.1 4.1m0-4.1l-4.1 4.1"/><circle class="sc" cx="276.9" cy="502.9" r="1.5"/><path class="s" d="M278.2 507.1h5.8m-2.9-2.9v5.8m-2.05-4.95l4.1 4.1m0-4.1l-4.1 4.1"/><circle class="sc" cx="281.1" cy="507.1" r="1.5"/><path class="s" d="M217.5 514.8h5.8m-2.9-2.9v5.8m-2.05-4.95l4.1 4.1m0-4.1l-4.1 4.1"/><circle class="sc" cx="220.4" cy="514.8" r="1.5"/><path class="s" d="M223.1 516.2h5.8m-2.9-2.9v5.8m-2.05-4.95l4.1 4.1m0-4.1l-4.1 4.1"/><circle class="sc" cx="226" cy="516.2" r="1.5"/><path class="s" d="M245.4 517.6h5.8m-2.9-2.9v5.8m-2.05-4.95l4.1 4.1m0-4.1l-4.1 4.1"/><circle class="sc" cx="248.3" cy="517.6" r="1.5"/><path class="s" d="M253.8 513.4h5.8m-2.9-2.9v5.8m-2.05-4.95l4.1 4.1m0-4.1l-4.1 4.1"/><circle class="sc" cx="256.7" cy="513.4" r="1.5"/><path class="s" d="M255.9 515.5h5.8m-2.9-2.9v5.8m-2.05-4.95l4.1 4.1m0-4.1l-4.1 4.1"/><circle class="sc" cx="258.8" cy="515.5" r="1.5"/><path class="s" d="M258 516.9h5.8m-2.9-2.9v5.8m-2.05-4.95l4.1 4.1m0-4.1l-4.1 4.1"/><circle class="sc" cx="260.9" cy="516.9" r="1.5"/><path class="s" d="M258.7 514.8h5.8m-2.9-2.9v5.8m-2.05-4.95l4.1 4.1m0-4.1l-4.1 4.1"/><circle class="sc" cx="261.6" cy="514.8" r="1.5"/><path class="s" d="M255.2 518.3h5.8m-2.9-2.9v5.8m-2.05-4.95l4.1 4.1m0-4.1l-4.1 4.1"/><circle class="sc" cx="258.1" cy="518.3" r="1.5"/><path class="s" d="M251 521.7h5.8m-2.9-2.9v5.8m-2.05-4.95l4.1 4.1m0-4.1l-4.1 4.1"/><circle class="sc" cx="253.9" cy="521.7" r="1.5"/><path class="s" d="M247.5 524.5h5.8m-2.9-2.9v5.8m-2.05-4.95l4.1 4.1m0-4.1l-4.1 4.1"/><circle class="sc" cx="250.4" cy="524.5" r="1.5"/><path class="s" d="M274 519.7h5.8m-2.9-2.9v5.8m-2.05-4.95l4.1 4.1m0-4.1l-4.1 4.1"/><circle class="sc" cx="276.9" cy="519.7" r="1.5"/><path class="s" d="M281.7 517.6h5.8m-2.9-2.9v5.8m-2.05-4.95l4.1 4.1m0-4.1l-4.1 4.1"/><circle class="sc" cx="284.6" cy="517.6" r="1.5"/><path class="s" d="M204.2 528.7h5.8m-2.9-2.9v5.8m-2.05-4.95l4.1 4.1m0-4.1l-4.1 4.1"/><circle class="sc" cx="207.1" cy="528.7" r="1.5"/><path class="s" d="M229.4 527.3h5.8m-2.9-2.9v5.8m-2.05-4.95l4.1 4.1m0-4.1l-4.1 4.1"/><circle class="sc" cx="232.3" cy="527.3" r="1.5"/><path class="s" d="M222.7 532.5h5.8m-2.9-2.9v5.8m-2.05-4.95l4.1 4.1m0-4.1l-4.1 4.1"/><circle class="sc" cx="225.6" cy="532.5" r="1.5"/><path class="s" d="M208.4 539.2h5.8m-2.9-2.9v5.8m-2.05-4.95l4.1 4.1m0-4.1l-4.1 4.1"/><circle class="sc" cx="211.3" cy="539.2" r="1.5"/><path class="s" d="M188.2 540.6h5.8m-2.9-2.9v5.8m-2.05-4.95l4.1 4.1m0-4.1l-4.1 4.1"/><circle class="sc" cx="191.1" cy="540.6" r="1.5"/><path class="s" d="M221.7 543.8h5.8m-2.9-2.9v5.8m-2.05-4.95l4.1 4.1m0-4.1l-4.1 4.1"/><circle class="sc" cx="224.6" cy="543.8" r="1.5"/><path class="s" d="M236.3 538.9h5.8m-2.9-2.9v5.8m-2.05-4.95l4.1 4.1m0-4.1l-4.1 4.1"/><circle class="sc" cx="239.2" cy="538.9" r="1.5"/><path class="s" d="M230.8 550.3h5.8m-2.9-2.9v5.8m-2.05-4.95l4.1 4.1m0-4.1l-4.1 4.1"/><circle class="sc" cx="233.7" cy="550.3" r="1.5"/><path class="s" d="M250.3 563.6h5.8m-2.9-2.9v5.8m-2.05-4.95l4.1 4.1m0-4.1l-4.1 4.1"/><circle class="sc" cx="253.2" cy="563.6" r="1.5"/><path class="s" d="M278.9 533.9h5.8m-2.9-2.9v5.8m-2.05-4.95l4.1 4.1m0-4.1l-4.1 4.1"/><circle class="sc" cx="281.8" cy="533.9" r="1.5"/><path class="s" d="M291.7 489h5.8m-2.9-2.9v5.8m-2.05-4.95l4.1 4.1m0-4.1l-4.1 4.1"/><circle class="sc" cx="294.6" cy="489" r="1.5"/><path class="s" d="M302.9 477.1h5.8m-2.9-2.9v5.8m-2.05-4.95l4.1 4.1m0-4.1l-4.1 4.1"/><circle class="sc" cx="305.8" cy="477.1" r="1.5"/><path class="s" d="M296.9 497.3h5.8m-2.9-2.9v5.8m-2.05-4.95l4.1 4.1m0-4.1l-4.1 4.1"/><circle class="sc" cx="299.8" cy="497.3" r="1.5"/><path class="s" d="M287.5 503.6h5.8m-2.9-2.9v5.8m-2.05-4.95l4.1 4.1m0-4.1l-4.1 4.1"/><circle class="sc" cx="290.4" cy="503.6" r="1.5"/><path class="s" d="M287.5 508.1h5.8m-2.9-2.9v5.8m-2.05-4.95l4.1 4.1m0-4.1l-4.1 4.1"/><circle class="sc" cx="290.4" cy="508.1" r="1.5"/><path class="s" d="M295.1 511.7h5.8m-2.9-2.9v5.8m-2.05-4.95l4.1 4.1m0-4.1l-4.1 4.1"/><circle class="sc" cx="298" cy="511.7" r="1.5"/><path class="s" d="M307.6 514.5h5.8m-2.9-2.9v5.8m-2.05-4.95l4.1 4.1m0-4.1l-4.1 4.1"/><circle class="sc" cx="310.5" cy="514.5" r="1.5"/><path class="s" d="M309.4 521.5h5.8m-2.9-2.9v5.8m-2.05-4.95l4.1 4.1m0-4.1l-4.1 4.1"/><circle class="sc" cx="312.3" cy="521.5" r="1.5"/><path class="s" d="M302.2 523.1h5.8m-2.9-2.9v5.8m-2.05-4.95l4.1 4.1m0-4.1l-4.1 4.1"/><circle class="sc" cx="305.1" cy="523.1" r="1.5"/><path class="s" d="M180.2 531.9h5.8m-2.9-2.9v5.8m-2.05-4.95l4.1 4.1m0-4.1l-4.1 4.1"/><circle class="sc" cx="183.1" cy="531.9" r="1.5"/><path class="s" d="M167.7 542.4h5.8m-2.9-2.9v5.8m-2.05-4.95l4.1 4.1m0-4.1l-4.1 4.1"/><circle class="sc" cx="170.6" cy="542.4" r="1.5"/><path class="s" d="M150.3 605.2h5.8m-2.9-2.9v5.8m-2.05-4.95l4.1 4.1m0-4.1l-4.1 4.1"/><circle class="sc" cx="153.2" cy="605.2" r="1.5"/><path class="s" d="M217.4 574h5.8m-2.9-2.9v5.8m-2.05-4.95l4.1 4.1m0-4.1l-4.1 4.1"/><circle class="sc" cx="220.3" cy="574" r="1.5"/>
</g>
<rect class="f" x="46.5" y="382" width="282.5" height="252.8"/>
<path class="tk" d="M77.6 634.8v5.3M126.9 634.8v5.3M176.2 634.8v5.3M225.5 634.8v5.3M274.8 634.8v5.3M324.1 634.8v5.3M46.5 608.8h-5.3M46.5 574.4h-5.3M46.5 540h-5.3M46.5 505.6h-5.3M46.5 471.2h-5.3M46.5 436.8h-5.3M46.5 402.4h-5.3"/>
<text class="t" x="77.6" y="657.7" text-anchor="middle">−5</text><text class="t" x="126.9" y="657.7" text-anchor="middle">0</text><text class="t" x="176.2" y="657.7" text-anchor="middle">5</text><text class="t" x="225.5" y="657.7" text-anchor="middle">10</text><text class="t" x="274.8" y="657.7" text-anchor="middle">15</text><text class="t" x="324.1" y="657.7" text-anchor="middle">20</text>
<text class="t" transform="translate(35.1 608.8) rotate(-90)" text-anchor="middle">1</text><text class="t" transform="translate(35.1 574.4) rotate(-90)" text-anchor="middle">2</text><text class="t" transform="translate(35.1 540) rotate(-90)" text-anchor="middle">3</text><text class="t" transform="translate(35.1 505.6) rotate(-90)" text-anchor="middle">4</text><text class="t" transform="translate(35.1 471.2) rotate(-90)" text-anchor="middle">5</text><text class="t" transform="translate(35.1 436.8) rotate(-90)" text-anchor="middle">6</text><text class="t" transform="translate(35.1 402.4) rotate(-90)" text-anchor="middle">7</text>
<text class="l" style="font-size:16.2px" x="188.25" y="679.3" text-anchor="middle">y</text>
<text class="l" transform="translate(11.9 510.9) rotate(-90)" text-anchor="middle">x</text>
<text class="p" x="15.6" y="370.6">(c)</text>
</g>
<g id="panel-d">
<g clip-path="url(#cd)">
<circle class="k" cx="513.5" cy="406.6" r="2.0"/><circle class="k" cx="516.9" cy="409.6" r="2.0"/><circle class="k" cx="535.7" cy="407.9" r="2.0"/><circle class="k" cx="514.8" cy="422.1" r="2.0"/><circle class="k" cx="527.5" cy="422.5" r="2.0"/><circle class="k" cx="529.2" cy="422.5" r="2.0"/><circle class="k" cx="513.9" cy="428.6" r="2.0"/><circle class="k" cx="514.3" cy="429.9" r="2.0"/><circle class="k" cx="519.6" cy="430.3" r="2.0"/><circle class="k" cx="525.4" cy="434.9" r="2.0"/><circle class="k" cx="496.6" cy="433.4" r="2.0"/><circle class="k" cx="489.4" cy="438.2" r="2.0"/><circle class="k" cx="503.5" cy="439.3" r="2.0"/><circle class="k" cx="508.7" cy="440.7" r="2.0"/><circle class="k" cx="511.8" cy="441.4" r="2.0"/><circle class="k" cx="475.2" cy="445.6" r="2.0"/><circle class="k" cx="512.5" cy="447.4" r="2.0"/><circle class="k" cx="519.6" cy="448.7" r="2.0"/><circle class="k" cx="534.9" cy="444.3" r="2.0"/><circle class="k" cx="538.6" cy="443.3" r="2.0"/><circle class="k" cx="480" cy="452.3" r="2.0"/><circle class="k" cx="497.8" cy="452.3" r="2.0"/><circle class="k" cx="513.3" cy="456" r="2.0"/><circle class="k" cx="528.2" cy="455.4" r="2.0"/><circle class="k" cx="531.1" cy="450.8" r="2.0"/><circle class="k" cx="546" cy="434.5" r="2.0"/><circle class="k" cx="488" cy="462.1" r="2.0"/><circle class="k" cx="493.6" cy="463.1" r="2.0"/><circle class="k" cx="495.5" cy="464.2" r="2.0"/><circle class="k" cx="504.1" cy="462.7" r="2.0"/><circle class="k" cx="505.6" cy="465.2" r="2.0"/><circle class="k" cx="500.7" cy="466.9" r="2.0"/><circle class="k" cx="501.4" cy="469" r="2.0"/><circle class="k" cx="496.1" cy="468.4" r="2.0"/><circle class="k" cx="490.9" cy="471.7" r="2.0"/><circle class="k" cx="496.6" cy="473.6" r="2.0"/><circle class="k" cx="499.3" cy="474.2" r="2.0"/><circle class="k" cx="513.3" cy="469.4" r="2.0"/><circle class="k" cx="475.8" cy="474.2" r="2.0"/><circle class="k" cx="482.5" cy="479" r="2.0"/><circle class="k" cx="485" cy="479.5" r="2.0"/><circle class="k" cx="484.6" cy="483.7" r="2.0"/><circle class="k" cx="493" cy="483" r="2.0"/><circle class="k" cx="495.1" cy="485.3" r="2.0"/><circle class="k" cx="502.8" cy="484.3" r="2.0"/><circle class="k" cx="505.1" cy="483" r="2.0"/><circle class="k" cx="508.3" cy="479" r="2.0"/><circle class="k" cx="516" cy="483.2" r="2.0"/><circle class="k" cx="520.2" cy="480.9" r="2.0"/><circle class="k" cx="527.5" cy="482.6" r="2.0"/><circle class="k" cx="529.6" cy="485.7" r="2.0"/><circle class="k" cx="535.5" cy="479.5" r="2.0"/><circle class="k" cx="530" cy="473.6" r="2.0"/><circle class="k" cx="541.1" cy="462.7" r="2.0"/><circle class="k" cx="542.2" cy="461.3" r="2.0"/><circle class="k" cx="544.7" cy="469.6" r="2.0"/><circle class="k" cx="541.1" cy="471.7" r="2.0"/><circle class="k" cx="471.7" cy="484.1" r="2.0"/><circle class="k" cx="457.8" cy="490.6" r="2.0"/><circle class="k" cx="469.1" cy="489.3" r="2.0"/><circle class="k" cx="465.8" cy="493.1" r="2.0"/><circle class="k" cx="476.3" cy="490.3" r="2.0"/><circle class="k" cx="482.5" cy="489.3" r="2.0"/><circle class="k" cx="483.2" cy="492.4" r="2.0"/><circle class="k" cx="492.6" cy="494.7" r="2.0"/><circle class="k" cx="496.1" cy="487.8" r="2.0"/><circle class="k" cx="521.9" cy="487.2" r="2.0"/><circle class="k" cx="529" cy="489.3" r="2.0"/><circle class="k" cx="528" cy="493.7" r="2.0"/><circle class="k" cx="538.4" cy="494.3" r="2.0"/><circle class="k" cx="457.4" cy="495.4" r="2.0"/><circle class="k" cx="465.8" cy="495.2" r="2.0"/><circle class="k" cx="466.8" cy="499.3" r="2.0"/><circle class="k" cx="471.7" cy="500" r="2.0"/><circle class="k" cx="475.2" cy="495.8" r="2.0"/><circle class="k" cx="487.1" cy="501" r="2.0"/><circle class="k" cx="485.7" cy="502.9" r="2.0"/><circle class="k" cx="482.1" cy="506" r="2.0"/><circle class="k" cx="484.2" cy="507.1" r="2.0"/><circle class="k" cx="489.9" cy="504.6" r="2.0"/><circle class="k" cx="496.1" cy="501.4" r="2.0"/><circle class="k" cx="499.7" cy="505.6" r="2.0"/><circle class="k" cx="511.8" cy="508.3" r="2.0"/><circle class="k" cx="526.5" cy="504.6" r="2.0"/><circle class="k" cx="527.5" cy="506" r="2.0"/><circle class="k" cx="538.6" cy="502.1" r="2.0"/><circle class="k" cx="546" cy="500.4" r="2.0"/><circle class="k" cx="457.8" cy="502.1" r="2.0"/><circle class="k" cx="458.5" cy="504.6" r="2.0"/><circle class="k" cx="449.5" cy="507.1" r="2.0"/><circle class="k" cx="440" cy="509.2" r="2.0"/><circle class="k" cx="446.5" cy="510.4" r="2.0"/><circle class="k" cx="468.5" cy="502.5" r="2.0"/><circle class="k" cx="476.3" cy="508.8" r="2.0"/><circle class="k" cx="482.5" cy="511.5" r="2.0"/><circle class="k" cx="486.7" cy="509.8" r="2.0"/><circle class="k" cx="488.4" cy="515" r="2.0"/><circle class="k" cx="493" cy="512.5" r="2.0"/><circle class="k" cx="457.4" cy="513.4" r="2.0"/><circle class="k" cx="464.3" cy="514.4" r="2.0"/><circle class="k" cx="469.6" cy="516.1" r="2.0"/><circle class="k" cx="476.3" cy="516.1" r="2.0"/><circle class="k" cx="452.8" cy="518.2" r="2.0"/><circle class="k" cx="440.7" cy="517.1" r="2.0"/><circle class="k" cx="439.6" cy="518.8" r="2.0"/><circle class="k" cx="442.3" cy="519.7" r="2.0"/><circle class="k" cx="447.4" cy="520.9" r="2.0"/><circle class="k" cx="459.5" cy="517.1" r="2.0"/><circle class="k" cx="477.3" cy="517.6" r="2.0"/><circle class="k" cx="482.5" cy="518.2" r="2.0"/><circle class="k" cx="490.3" cy="518.2" r="2.0"/><circle class="k" cx="498.7" cy="517.6" r="2.0"/><circle class="k" cx="508.7" cy="515.5" r="2.0"/><circle class="k" cx="513.9" cy="521.3" r="2.0"/><circle class="k" cx="526.5" cy="522.4" r="2.0"/><circle class="k" cx="473.1" cy="498.3" r="2.0"/><circle class="k" cx="592.5" cy="391.6" r="2.0"/><circle class="k" cx="551.4" cy="419.6" r="2.0"/><circle class="k" cx="584.3" cy="425.5" r="2.0"/><circle class="k" cx="639.8" cy="429.2" r="2.0"/><circle class="k" cx="615.9" cy="440.7" r="2.0"/><circle class="k" cx="677.2" cy="440.3" r="2.0"/><circle class="k" cx="555.6" cy="449.5" r="2.0"/><circle class="k" cx="582.8" cy="448.9" r="2.0"/><circle class="k" cx="581.6" cy="458.5" r="2.0"/><circle class="k" cx="555" cy="462.7" r="2.0"/><circle class="k" cx="561.3" cy="468.2" r="2.0"/><circle class="k" cx="557.9" cy="483.2" r="2.0"/><circle class="k" cx="562.3" cy="483.2" r="2.0"/><circle class="k" cx="596.2" cy="484.5" r="2.0"/><circle class="k" cx="552.7" cy="489.5" r="2.0"/><circle class="k" cx="555.4" cy="492" r="2.0"/><circle class="k" cx="553.7" cy="495.4" r="2.0"/><circle class="k" cx="560" cy="496.8" r="2.0"/><circle class="k" cx="619.7" cy="496.2" r="2.0"/><circle class="k" cx="663.6" cy="493.1" r="2.0"/><circle class="k" cx="561.1" cy="500.8" r="2.0"/><circle class="k" cx="554.4" cy="502.5" r="2.0"/><circle class="k" cx="556" cy="504.2" r="2.0"/><circle class="k" cx="589.1" cy="511.7" r="2.0"/><circle class="k" cx="561.7" cy="515" r="2.0"/><circle class="k" cx="561.1" cy="518.8" r="2.0"/><circle class="k" cx="558.1" cy="522" r="2.0"/><circle class="k" cx="600" cy="523" r="2.0"/><circle class="k" cx="461.6" cy="523.8" r="2.0"/><circle class="k" cx="464.4" cy="525.7" r="2.0"/><circle class="k" cx="470" cy="525" r="2.0"/><circle class="k" cx="474.2" cy="525" r="2.0"/><circle class="k" cx="479" cy="524.3" r="2.0"/><circle class="k" cx="451.8" cy="528.9" r="2.0"/><circle class="k" cx="451.8" cy="529.8" r="2.0"/><circle class="k" cx="461.6" cy="529.8" r="2.0"/><circle class="k" cx="468.6" cy="531.9" r="2.0"/><circle class="k" cx="471.4" cy="534.7" r="2.0"/><circle class="k" cx="434.4" cy="534.4" r="2.0"/><circle class="k" cx="437.5" cy="533.3" r="2.0"/><circle class="k" cx="447.4" cy="536.8" r="2.0"/><circle class="k" cx="458.8" cy="536.8" r="2.0"/><circle class="k" cx="466.5" cy="538.2" r="2.0"/><circle class="k" cx="470" cy="538.2" r="2.0"/><circle class="k" cx="476.3" cy="536.8" r="2.0"/><circle class="k" cx="479" cy="534" r="2.0"/><circle class="k" cx="483.2" cy="531.9" r="2.0"/><circle class="k" cx="495.1" cy="525" r="2.0"/><circle class="k" cx="494.4" cy="527" r="2.0"/><circle class="k" cx="495.8" cy="538.2" r="2.0"/><circle class="k" cx="430.9" cy="543.4" r="2.0"/><circle class="k" cx="437.9" cy="542.4" r="2.0"/><circle class="k" cx="459.5" cy="541" r="2.0"/><circle class="k" cx="460.2" cy="544.5" r="2.0"/><circle class="k" cx="463" cy="545.2" r="2.0"/><circle class="k" cx="468.6" cy="541" r="2.0"/><circle class="k" cx="467.9" cy="545.2" r="2.0"/><circle class="k" cx="472.8" cy="543.8" r="2.0"/><circle class="k" cx="478.3" cy="541" r="2.0"/><circle class="k" cx="479.7" cy="543.8" r="2.0"/><circle class="k" cx="481.1" cy="545.2" r="2.0"/><circle class="k" cx="489.5" cy="544.5" r="2.0"/><circle class="k" cx="497.2" cy="545.2" r="2.0"/><circle class="k" cx="430.9" cy="548" r="2.0"/><circle class="k" cx="443.5" cy="546.6" r="2.0"/><circle class="k" cx="449" cy="548.7" r="2.0"/><circle class="k" cx="458.8" cy="547" r="2.0"/><circle class="k" cx="463.7" cy="548.4" r="2.0"/><circle class="k" cx="467.2" cy="548.7" r="2.0"/><circle class="k" cx="477" cy="548" r="2.0"/><circle class="k" cx="481.8" cy="548" r="2.0"/><circle class="k" cx="475.6" cy="552.2" r="2.0"/><circle class="k" cx="493" cy="551.5" r="2.0"/><circle class="k" cx="421.8" cy="551.7" r="2.0"/><circle class="k" cx="419.5" cy="556.3" r="2.0"/><circle class="k" cx="454.6" cy="551.5" r="2.0"/><circle class="k" cx="456" cy="553.6" r="2.0"/><circle class="k" cx="459.5" cy="552.9" r="2.0"/><circle class="k" cx="464.4" cy="557.7" r="2.0"/><circle class="k" cx="468.6" cy="554.3" r="2.0"/><circle class="k" cx="471.4" cy="558.4" r="2.0"/><circle class="k" cx="472.8" cy="557.7" r="2.0"/><circle class="k" cx="474.9" cy="559.8" r="2.0"/><circle class="k" cx="470" cy="561.2" r="2.0"/><circle class="k" cx="435.4" cy="559.1" r="2.0"/><circle class="k" cx="444.2" cy="559.1" r="2.0"/><circle class="k" cx="445.6" cy="555" r="2.0"/><circle class="k" cx="441.4" cy="561" r="2.0"/><circle class="k" cx="453.9" cy="559.1" r="2.0"/><circle class="k" cx="458.1" cy="562.6" r="2.0"/><circle class="k" cx="463" cy="561.9" r="2.0"/><circle class="k" cx="463" cy="563.3" r="2.0"/><circle class="k" cx="453" cy="563.7" r="2.0"/><circle class="k" cx="485.3" cy="561.2" r="2.0"/><circle class="k" cx="486" cy="568.2" r="2.0"/><circle class="k" cx="424.6" cy="566.1" r="2.0"/><circle class="k" cx="449" cy="566.8" r="2.0"/><circle class="k" cx="448.3" cy="570.3" r="2.0"/><circle class="k" cx="450.4" cy="568.9" r="2.0"/><circle class="k" cx="456" cy="566.8" r="2.0"/><circle class="k" cx="456.7" cy="568.9" r="2.0"/><circle class="k" cx="460.2" cy="571" r="2.0"/><circle class="k" cx="462.3" cy="571" r="2.0"/><circle class="k" cx="471.4" cy="567.5" r="2.0"/><circle class="k" cx="479" cy="572.4" r="2.0"/><circle class="k" cx="487.8" cy="574.2" r="2.0"/><circle class="k" cx="421.1" cy="574.2" r="2.0"/><circle class="k" cx="427" cy="572" r="2.0"/><circle class="k" cx="437.2" cy="571" r="2.0"/><circle class="k" cx="435.8" cy="573.5" r="2.0"/><circle class="k" cx="444.9" cy="572.4" r="2.0"/><circle class="k" cx="446.3" cy="575.9" r="2.0"/><circle class="k" cx="447.7" cy="576.6" r="2.0"/><circle class="k" cx="444.9" cy="578" r="2.0"/><circle class="k" cx="445.6" cy="579.4" r="2.0"/><circle class="k" cx="426.7" cy="579.4" r="2.0"/><circle class="k" cx="428.4" cy="582.6" r="2.0"/><circle class="k" cx="436.5" cy="579.4" r="2.0"/><circle class="k" cx="440.7" cy="582.9" r="2.0"/><circle class="k" cx="442.1" cy="583.6" r="2.0"/><circle class="k" cx="440" cy="585" r="2.0"/><circle class="k" cx="439.6" cy="587.5" r="2.0"/><circle class="k" cx="451.1" cy="584.3" r="2.0"/><circle class="k" cx="462" cy="578.7" r="2.0"/><circle class="k" cx="463.7" cy="589.1" r="2.0"/><circle class="k" cx="466.5" cy="589.1" r="2.0"/><circle class="k" cx="474.9" cy="588.2" r="2.0"/><circle class="k" cx="474.2" cy="591.2" r="2.0"/><circle class="k" cx="471.1" cy="595.4" r="2.0"/><circle class="k" cx="419.7" cy="592.3" r="2.0"/><circle class="k" cx="430.2" cy="594.4" r="2.0"/><circle class="k" cx="435.8" cy="595.4" r="2.0"/><circle class="k" cx="436.5" cy="597.5" r="2.0"/><circle class="k" cx="435.4" cy="599.2" r="2.0"/><circle class="k" cx="440" cy="598.9" r="2.0"/><circle class="k" cx="447.4" cy="591.9" r="2.0"/><circle class="k" cx="454.2" cy="593.6" r="2.0"/><circle class="k" cx="415.8" cy="604.5" r="2.0"/><circle class="k" cx="475.6" cy="603.1" r="2.0"/><circle class="k" cx="498.6" cy="572" r="2.0"/><circle class="k" cx="555.1" cy="526.7" r="2.0"/><circle class="k" cx="561.8" cy="525.7" r="2.0"/><circle class="k" cx="565.3" cy="530.3" r="2.0"/><circle class="k" cx="570.8" cy="535.1" r="2.0"/><circle class="k" cx="573.9" cy="533" r="2.0"/><circle class="k" cx="600.1" cy="524.6" r="2.0"/><circle class="k" cx="636.7" cy="531.5" r="2.0"/><circle class="k" cx="513.7" cy="531.9" r="2.0"/><circle class="k" cx="519.9" cy="530.9" r="2.0"/><circle class="k" cx="527.3" cy="531.9" r="2.0"/><circle class="k" cx="521.4" cy="536.7" r="2.0"/><circle class="k" cx="536.7" cy="536.7" r="2.0"/><circle class="k" cx="541.3" cy="536.7" r="2.0"/><circle class="k" cx="506.3" cy="538.8" r="2.0"/><circle class="k" cx="510.1" cy="542.4" r="2.0"/><circle class="k" cx="518.9" cy="544.1" r="2.0"/><circle class="k" cx="524.7" cy="544.5" r="2.0"/><circle class="k" cx="532.1" cy="540.9" r="2.0"/><circle class="k" cx="529.3" cy="546.2" r="2.0"/><circle class="k" cx="548.6" cy="545.1" r="2.0"/><circle class="k" cx="589" cy="539.3" r="2.0"/><circle class="k" cx="597" cy="543.9" r="2.0"/><circle class="k" cx="641.3" cy="548" r="2.0"/><circle class="k" cx="600.9" cy="565.8" r="2.0"/><circle class="k" cx="500.7" cy="572.3" r="2.0"/><circle class="k" cx="511.1" cy="572.7" r="2.0"/><circle class="k" cx="515.1" cy="572.3" r="2.0"/><circle class="k" cx="544.6" cy="571.7" r="2.0"/><circle class="k" cx="507" cy="587.4" r="2.0"/><circle class="k" cx="573.7" cy="585.1" r="2.0"/><circle class="k" cx="545.9" cy="600" r="2.0"/><circle class="k" cx="499" cy="531.3" r="2.0"/><circle class="k" cx="648.6" cy="540.9" r="2.0"/><circle class="k" cx="428" cy="608.6" r="2.0"/><circle class="k" cx="445.8" cy="613.8" r="2.0"/><circle class="k" cx="440.6" cy="616.9" r="2.0"/><circle class="k" cx="458.7" cy="613.2" r="2.0"/><circle class="k" cx="461.9" cy="620" r="2.0"/><circle class="k" cx="418.7" cy="621.1" r="2.0"/><circle class="k" cx="428.5" cy="622.1" r="2.0"/><circle class="k" cx="441.2" cy="625.9" r="2.0"/>
<path class="s" d="M542.4 416.3h5.8m-2.9-2.9v5.8m-2.05-4.95l4.1 4.1m0-4.1l-4.1 4.1"/><circle class="sc" cx="545.3" cy="416.3" r="1.5"/><path class="s" d="M530.3 451.6h5.8m-2.9-2.9v5.8m-2.05-4.95l4.1 4.1m0-4.1l-4.1 4.1"/><circle class="sc" cx="533.2" cy="451.6" r="1.5"/><path class="s" d="M510.4 458.5h5.8m-2.9-2.9v5.8m-2.05-4.95l4.1 4.1m0-4.1l-4.1 4.1"/><circle class="sc" cx="513.3" cy="458.5" r="1.5"/><path class="s" d="M520.4 469.4h5.8m-2.9-2.9v5.8m-2.05-4.95l4.1 4.1m0-4.1l-4.1 4.1"/><circle class="sc" cx="523.3" cy="469.4" r="1.5"/><path class="s" d="M525.7 470.7h5.8m-2.9-2.9v5.8m-2.05-4.95l4.1 4.1m0-4.1l-4.1 4.1"/><circle class="sc" cx="528.6" cy="470.7" r="1.5"/><path class="s" d="M537.2 468.6h5.8m-2.9-2.9v5.8m-2.05-4.95l4.1 4.1m0-4.1l-4.1 4.1"/><circle class="sc" cx="540.1" cy="468.6" r="1.5"/><path class="s" d="M474 472.1h5.8m-2.9-2.9v5.8m-2.05-4.95l4.1 4.1m0-4.1l-4.1 4.1"/><circle class="sc" cx="476.9" cy="472.1" r="1.5"/><path class="s" d="M479.6 474.2h5.8m-2.9-2.9v5.8m-2.05-4.95l4.1 4.1m0-4.1l-4.1 4.1"/><circle class="sc" cx="482.5" cy="474.2" r="1.5"/><path class="s" d="M482.1 472.6h5.8m-2.9-2.9v5.8m-2.05-4.95l4.1 4.1m0-4.1l-4.1 4.1"/><circle class="sc" cx="485" cy="472.6" r="1.5"/><path class="s" d="M487 477.4h5.8m-2.9-2.9v5.8m-2.05-4.95l4.1 4.1m0-4.1l-4.1 4.1"/><circle class="sc" cx="489.9" cy="477.4" r="1.5"/><path class="s" d="M510.4 473.6h5.8m-2.9-2.9v5.8m-2.05-4.95l4.1 4.1m0-4.1l-4.1 4.1"/><circle class="sc" cx="513.3" cy="473.6" r="1.5"/><path class="s" d="M518.8 474.2h5.8m-2.9-2.9v5.8m-2.05-4.95l4.1 4.1m0-4.1l-4.1 4.1"/><circle class="sc" cx="521.7" cy="474.2" r="1.5"/><path class="s" d="M521.1 478h5.8m-2.9-2.9v5.8m-2.05-4.95l4.1 4.1m0-4.1l-4.1 4.1"/><circle class="sc" cx="524" cy="478" r="1.5"/><path class="s" d="M508.9 479.9h5.8m-2.9-2.9v5.8m-2.05-4.95l4.1 4.1m0-4.1l-4.1 4.1"/><circle class="sc" cx="511.8" cy="479.9" r="1.5"/><path class="s" d="M462.3 485.3h5.8m-2.9-2.9v5.8m-2.05-4.95l4.1 4.1m0-4.1l-4.1 4.1"/><circle class="sc" cx="465.2" cy="485.3" r="1.5"/><path class="s" d="M488.6 490.6h5.8m-2.9-2.9v5.8m-2.05-4.95l4.1 4.1m0-4.1l-4.1 4.1"/><circle class="sc" cx="491.5" cy="490.6" r="1.5"/><path class="s" d="M497.4 487.8h5.8m-2.9-2.9v5.8m-2.05-4.95l4.1 4.1m0-4.1l-4.1 4.1"/><circle class="sc" cx="500.3" cy="487.8" r="1.5"/><path class="s" d="M516.7 490.3h5.8m-2.9-2.9v5.8m-2.05-4.95l4.1 4.1m0-4.1l-4.1 4.1"/><circle class="sc" cx="519.6" cy="490.3" r="1.5"/><path class="s" d="M474.4 498.7h5.8m-2.9-2.9v5.8m-2.05-4.95l4.1 4.1m0-4.1l-4.1 4.1"/><circle class="sc" cx="477.3" cy="498.7" r="1.5"/><path class="s" d="M475.9 500h5.8m-2.9-2.9v5.8m-2.05-4.95l4.1 4.1m0-4.1l-4.1 4.1"/><circle class="sc" cx="478.8" cy="500" r="1.5"/><path class="s" d="M492.8 498.9h5.8m-2.9-2.9v5.8m-2.05-4.95l4.1 4.1m0-4.1l-4.1 4.1"/><circle class="sc" cx="495.7" cy="498.9" r="1.5"/><path class="s" d="M500.6 500h5.8m-2.9-2.9v5.8m-2.05-4.95l4.1 4.1m0-4.1l-4.1 4.1"/><circle class="sc" cx="503.5" cy="500" r="1.5"/><path class="s" d="M447.2 504h5.8m-2.9-2.9v5.8m-2.05-4.95l4.1 4.1m0-4.1l-4.1 4.1"/><circle class="sc" cx="450.1" cy="504" r="1.5"/><path class="s" d="M454.5 507.1h5.8m-2.9-2.9v5.8m-2.05-4.95l4.1 4.1m0-4.1l-4.1 4.1"/><circle class="sc" cx="457.4" cy="507.1" r="1.5"/><path class="s" d="M491.6 506h5.8m-2.9-2.9v5.8m-2.05-4.95l4.1 4.1m0-4.1l-4.1 4.1"/><circle class="sc" cx="494.5" cy="506" r="1.5"/><path class="s" d="M496.4 511.5h5.8m-2.9-2.9v5.8m-2.05-4.95l4.1 4.1m0-4.1l-4.1 4.1"/><circle class="sc" cx="499.3" cy="511.5" r="1.5"/><path class="s" d="M511 510.4h5.8m-2.9-2.9v5.8m-2.05-4.95l4.1 4.1m0-4.1l-4.1 4.1"/><circle class="sc" cx="513.9" cy="510.4" r="1.5"/><path class="s" d="M477.5 513.6h5.8m-2.9-2.9v5.8m-2.05-4.95l4.1 4.1m0-4.1l-4.1 4.1"/><circle class="sc" cx="480.4" cy="513.6" r="1.5"/><path class="s" d="M544.5 511.3h5.8m-2.9-2.9v5.8m-2.05-4.95l4.1 4.1m0-4.1l-4.1 4.1"/><circle class="sc" cx="547.4" cy="511.3" r="1.5"/><path class="s" d="M504.1 522.4h5.8m-2.9-2.9v5.8m-2.05-4.95l4.1 4.1m0-4.1l-4.1 4.1"/><circle class="sc" cx="507" cy="522.4" r="1.5"/><path class="s" d="M530.9 522h5.8m-2.9-2.9v5.8m-2.05-4.95l4.1 4.1m0-4.1l-4.1 4.1"/><circle class="sc" cx="533.8" cy="522" r="1.5"/><path class="s" d="M544.5 465.9h5.8m-2.9-2.9v5.8m-2.05-4.95l4.1 4.1m0-4.1l-4.1 4.1"/><circle class="sc" cx="547.4" cy="465.9" r="1.5"/><path class="s" d="M600 414h5.8m-2.9-2.9v5.8m-2.05-4.95l4.1 4.1m0-4.1l-4.1 4.1"/><circle class="sc" cx="602.9" cy="414" r="1.5"/><path class="s" d="M551.5 434.5h5.8m-2.9-2.9v5.8m-2.05-4.95l4.1 4.1m0-4.1l-4.1 4.1"/><circle class="sc" cx="554.4" cy="434.5" r="1.5"/><path class="s" d="M550.4 439.1h5.8m-2.9-2.9v5.8m-2.05-4.95l4.1 4.1m0-4.1l-4.1 4.1"/><circle class="sc" cx="553.3" cy="439.1" r="1.5"/><path class="s" d="M600 436.1h5.8m-2.9-2.9v5.8m-2.05-4.95l4.1 4.1m0-4.1l-4.1 4.1"/><circle class="sc" cx="602.9" cy="436.1" r="1.5"/><path class="s" d="M603.8 443.3h5.8m-2.9-2.9v5.8m-2.05-4.95l4.1 4.1m0-4.1l-4.1 4.1"/><circle class="sc" cx="606.7" cy="443.3" r="1.5"/><path class="s" d="M619.3 441.8h5.8m-2.9-2.9v5.8m-2.05-4.95l4.1 4.1m0-4.1l-4.1 4.1"/><circle class="sc" cx="622.2" cy="441.8" r="1.5"/><path class="s" d="M629.3 446h5.8m-2.9-2.9v5.8m-2.05-4.95l4.1 4.1m0-4.1l-4.1 4.1"/><circle class="sc" cx="632.2" cy="446" r="1.5"/><path class="s" d="M684.6 446.6h5.8m-2.9-2.9v5.8m-2.05-4.95l4.1 4.1m0-4.1l-4.1 4.1"/><circle class="sc" cx="687.5" cy="446.6" r="1.5"/><path class="s" d="M598.6 456.4h5.8m-2.9-2.9v5.8m-2.05-4.95l4.1 4.1m0-4.1l-4.1 4.1"/><circle class="sc" cx="601.5" cy="456.4" r="1.5"/><path class="s" d="M595.4 460.2h5.8m-2.9-2.9v5.8m-2.05-4.95l4.1 4.1m0-4.1l-4.1 4.1"/><circle class="sc" cx="598.3" cy="460.2" r="1.5"/><path class="s" d="M657.2 456h5.8m-2.9-2.9v5.8m-2.05-4.95l4.1 4.1m0-4.1l-4.1 4.1"/><circle class="sc" cx="660.1" cy="456" r="1.5"/><path class="s" d="M570.3 462.1h5.8m-2.9-2.9v5.8m-2.05-4.95l4.1 4.1m0-4.1l-4.1 4.1"/><circle class="sc" cx="573.2" cy="462.1" r="1.5"/><path class="s" d="M583.3 464h5.8m-2.9-2.9v5.8m-2.05-4.95l4.1 4.1m0-4.1l-4.1 4.1"/><circle class="sc" cx="586.2" cy="464" r="1.5"/><path class="s" d="M675.4 462.1h5.8m-2.9-2.9v5.8m-2.05-4.95l4.1 4.1m0-4.1l-4.1 4.1"/><circle class="sc" cx="678.3" cy="462.1" r="1.5"/><path class="s" d="M545.6 465.9h5.8m-2.9-2.9v5.8m-2.05-4.95l4.1 4.1m0-4.1l-4.1 4.1"/><circle class="sc" cx="548.5" cy="465.9" r="1.5"/><path class="s" d="M617.8 468.6h5.8m-2.9-2.9v5.8m-2.05-4.95l4.1 4.1m0-4.1l-4.1 4.1"/><circle class="sc" cx="620.7" cy="468.6" r="1.5"/><path class="s" d="M642.7 466.1h5.8m-2.9-2.9v5.8m-2.05-4.95l4.1 4.1m0-4.1l-4.1 4.1"/><circle class="sc" cx="645.6" cy="466.1" r="1.5"/><path class="s" d="M655.1 475.9h5.8m-2.9-2.9v5.8m-2.05-4.95l4.1 4.1m0-4.1l-4.1 4.1"/><circle class="sc" cx="658" cy="475.9" r="1.5"/><path class="s" d="M679.6 477.8h5.8m-2.9-2.9v5.8m-2.05-4.95l4.1 4.1m0-4.1l-4.1 4.1"/><circle class="sc" cx="682.5" cy="477.8" r="1.5"/><path class="s" d="M630.4 479h5.8m-2.9-2.9v5.8m-2.05-4.95l4.1 4.1m0-4.1l-4.1 4.1"/><circle class="sc" cx="633.3" cy="479" r="1.5"/><path class="s" d="M579.1 488h5.8m-2.9-2.9v5.8m-2.05-4.95l4.1 4.1m0-4.1l-4.1 4.1"/><circle class="sc" cx="582" cy="488" r="1.5"/><path class="s" d="M637.3 490.3h5.8m-2.9-2.9v5.8m-2.05-4.95l4.1 4.1m0-4.1l-4.1 4.1"/><circle class="sc" cx="640.2" cy="490.3" r="1.5"/><path class="s" d="M628.9 492.7h5.8m-2.9-2.9v5.8m-2.05-4.95l4.1 4.1m0-4.1l-4.1 4.1"/><circle class="sc" cx="631.8" cy="492.7" r="1.5"/><path class="s" d="M682.3 495.8h5.8m-2.9-2.9v5.8m-2.05-4.95l4.1 4.1m0-4.1l-4.1 4.1"/><circle class="sc" cx="685.2" cy="495.8" r="1.5"/><path class="s" d="M606.5 499.8h5.8m-2.9-2.9v5.8m-2.05-4.95l4.1 4.1m0-4.1l-4.1 4.1"/><circle class="sc" cx="609.4" cy="499.8" r="1.5"/><path class="s" d="M604.4 504h5.8m-2.9-2.9v5.8m-2.05-4.95l4.1 4.1m0-4.1l-4.1 4.1"/><circle class="sc" cx="607.3" cy="504" r="1.5"/><path class="s" d="M603.4 506h5.8m-2.9-2.9v5.8m-2.05-4.95l4.1 4.1m0-4.1l-4.1 4.1"/><circle class="sc" cx="606.3" cy="506" r="1.5"/><path class="s" d="M597.5 508.1h5.8m-2.9-2.9v5.8m-2.05-4.95l4.1 4.1m0-4.1l-4.1 4.1"/><circle class="sc" cx="600.4" cy="508.1" r="1.5"/><path class="s" d="M651.5 504h5.8m-2.9-2.9v5.8m-2.05-4.95l4.1 4.1m0-4.1l-4.1 4.1"/><circle class="sc" cx="654.4" cy="504" r="1.5"/><path class="s" d="M679.1 506h5.8m-2.9-2.9v5.8m-2.05-4.95l4.1 4.1m0-4.1l-4.1 4.1"/><circle class="sc" cx="682" cy="506" r="1.5"/><path class="s" d="M653 509.2h5.8m-2.9-2.9v5.8m-2.05-4.95l4.1 4.1m0-4.1l-4.1 4.1"/><circle class="sc" cx="655.9" cy="509.2" r="1.5"/><path class="s" d="M591.7 513h5.8m-2.9-2.9v5.8m-2.05-4.95l4.1 4.1m0-4.1l-4.1 4.1"/><circle class="sc" cx="594.6" cy="513" r="1.5"/><path class="s" d="M605.3 514h5.8m-2.9-2.9v5.8m-2.05-4.95l4.1 4.1m0-4.1l-4.1 4.1"/><circle class="sc" cx="608.2" cy="514" r="1.5"/><path class="s" d="M604.2 516.5h5.8m-2.9-2.9v5.8m-2.05-4.95l4.1 4.1m0-4.1l-4.1 4.1"/><circle class="sc" cx="607.1" cy="516.5" r="1.5"/><path class="s" d="M647.3 513.4h5.8m-2.9-2.9v5.8m-2.05-4.95l4.1 4.1m0-4.1l-4.1 4.1"/><circle class="sc" cx="650.2" cy="513.4" r="1.5"/><path class="s" d="M659.9 513h5.8m-2.9-2.9v5.8m-2.05-4.95l4.1 4.1m0-4.1l-4.1 4.1"/><circle class="sc" cx="662.8" cy="513" r="1.5"/><path class="s" d="M636.9 516.5h5.8m-2.9-2.9v5.8m-2.05-4.95l4.1 4.1m0-4.1l-4.1 4.1"/><circle class="sc" cx="639.8" cy="516.5" r="1.5"/><path class="s" d="M678.1 520.9h5.8m-2.9-2.9v5.8m-2.05-4.95l4.1 4.1m0-4.1l-4.1 4.1"/><circle class="sc" cx="681" cy="520.9" r="1.5"/><path class="s" d="M591.7 523h5.8m-2.9-2.9v5.8m-2.05-4.95l4.1 4.1m0-4.1l-4.1 4.1"/><circle class="sc" cx="594.6" cy="523" r="1.5"/><path class="s" d="M608 523h5.8m-2.9-2.9v5.8m-2.05-4.95l4.1 4.1m0-4.1l-4.1 4.1"/><circle class="sc" cx="610.9" cy="523" r="1.5"/><path class="s" d="M463.6 525.7h5.8m-2.9-2.9v5.8m-2.05-4.95l4.1 4.1m0-4.1l-4.1 4.1"/><circle class="sc" cx="466.5" cy="525.7" r="1.5"/><path class="s" d="M464.6 530.5h5.8m-2.9-2.9v5.8m-2.05-4.95l4.1 4.1m0-4.1l-4.1 4.1"/><circle class="sc" cx="467.5" cy="530.5" r="1.5"/><path class="s" d="M454.8 536.4h5.8m-2.9-2.9v5.8m-2.05-4.95l4.1 4.1m0-4.1l-4.1 4.1"/><circle class="sc" cx="457.7" cy="536.4" r="1.5"/><path class="s" d="M487.3 532.6h5.8m-2.9-2.9v5.8m-2.05-4.95l4.1 4.1m0-4.1l-4.1 4.1"/><circle class="sc" cx="490.2" cy="532.6" r="1.5"/><path class="s" d="M490.1 531.2h5.8m-2.9-2.9v5.8m-2.05-4.95l4.1 4.1m0-4.1l-4.1 4.1"/><circle class="sc" cx="493" cy="531.2" r="1.5"/><path class="s" d="M493.6 533.3h5.8m-2.9-2.9v5.8m-2.05-4.95l4.1 4.1m0-4.1l-4.1 4.1"/><circle class="sc" cx="496.5" cy="533.3" r="1.5"/><path class="s" d="M488.7 536.8h5.8m-2.9-2.9v5.8m-2.05-4.95l4.1 4.1m0-4.1l-4.1 4.1"/><circle class="sc" cx="491.6" cy="536.8" r="1.5"/><path class="s" d="M459.1 555.4h5.8m-2.9-2.9v5.8m-2.05-4.95l4.1 4.1m0-4.1l-4.1 4.1"/><circle class="sc" cx="462" cy="555.4" r="1.5"/><path class="s" d="M448.5 558.7h5.8m-2.9-2.9v5.8m-2.05-4.95l4.1 4.1m0-4.1l-4.1 4.1"/><circle class="sc" cx="451.4" cy="558.7" r="1.5"/><path class="s" d="M442.2 567.1h5.8m-2.9-2.9v5.8m-2.05-4.95l4.1 4.1m0-4.1l-4.1 4.1"/><circle class="sc" cx="445.1" cy="567.1" r="1.5"/><path class="s" d="M444.5 584h5.8m-2.9-2.9v5.8m-2.05-4.95l4.1 4.1m0-4.1l-4.1 4.1"/><circle class="sc" cx="447.4" cy="584" r="1.5"/><path class="s" d="M461.9 584.5h5.8m-2.9-2.9v5.8m-2.05-4.95l4.1 4.1m0-4.1l-4.1 4.1"/><circle class="sc" cx="464.8" cy="584.5" r="1.5"/><path class="s" d="M420.3 587h5.8m-2.9-2.9v5.8m-2.05-4.95l4.1 4.1m0-4.1l-4.1 4.1"/><circle class="sc" cx="423.2" cy="587" r="1.5"/><path class="s" d="M406 597.1h5.8m-2.9-2.9v5.8m-2.05-4.95l4.1 4.1m0-4.1l-4.1 4.1"/><circle class="sc" cx="408.9" cy="597.1" r="1.5"/><path class="s" d="M471.3 607h5.8m-2.9-2.9v5.8m-2.05-4.95l4.1 4.1m0-4.1l-4.1 4.1"/><circle class="sc" cx="474.2" cy="607" r="1.5"/><path class="s" d="M504.5 523.1h5.8m-2.9-2.9v5.8m-2.05-4.95l4.1 4.1m0-4.1l-4.1 4.1"/><circle class="sc" cx="507.4" cy="523.1" r="1.5"/><path class="s" d="M531.1 522.5h5.8m-2.9-2.9v5.8m-2.05-4.95l4.1 4.1m0-4.1l-4.1 4.1"/><circle class="sc" cx="534" cy="522.5" r="1.5"/><path class="s" d="M525.4 526.7h5.8m-2.9-2.9v5.8m-2.05-4.95l4.1 4.1m0-4.1l-4.1 4.1"/><circle class="sc" cx="528.3" cy="526.7" r="1.5"/><path class="s" d="M591.3 524h5.8m-2.9-2.9v5.8m-2.05-4.95l4.1 4.1m0-4.1l-4.1 4.1"/><circle class="sc" cx="594.2" cy="524" r="1.5"/><path class="s" d="M592.8 527.3h5.8m-2.9-2.9v5.8m-2.05-4.95l4.1 4.1m0-4.1l-4.1 4.1"/><circle class="sc" cx="595.7" cy="527.3" r="1.5"/><path class="s" d="M602.2 528.8h5.8m-2.9-2.9v5.8m-2.05-4.95l4.1 4.1m0-4.1l-4.1 4.1"/><circle class="sc" cx="605.1" cy="528.8" r="1.5"/><path class="s" d="M608.5 524.2h5.8m-2.9-2.9v5.8m-2.05-4.95l4.1 4.1m0-4.1l-4.1 4.1"/><circle class="sc" cx="611.4" cy="524.2" r="1.5"/><path class="s" d="M524.4 536.1h5.8m-2.9-2.9v5.8m-2.05-4.95l4.1 4.1m0-4.1l-4.1 4.1"/><circle class="sc" cx="527.3" cy="536.1" r="1.5"/><path class="s" d="M525.4 539.3h5.8m-2.9-2.9v5.8m-2.05-4.95l4.1 4.1m0-4.1l-4.1 4.1"/><circle class="sc" cx="528.3" cy="539.3" r="1.5"/><path class="s" d="M522.3 542h5.8m-2.9-2.9v5.8m-2.05-4.95l4.1 4.1m0-4.1l-4.1 4.1"/><circle class="sc" cx="525.2" cy="542" r="1.5"/><path class="s" d="M622.7 542.4h5.8m-2.9-2.9v5.8m-2.05-4.95l4.1 4.1m0-4.1l-4.1 4.1"/><circle class="sc" cx="625.6" cy="542.4" r="1.5"/><path class="s" d="M585.7 547h5.8m-2.9-2.9v5.8m-2.05-4.95l4.1 4.1m0-4.1l-4.1 4.1"/><circle class="sc" cx="588.6" cy="547" r="1.5"/><path class="s" d="M509.3 552.9h5.8m-2.9-2.9v5.8m-2.05-4.95l4.1 4.1m0-4.1l-4.1 4.1"/><circle class="sc" cx="512.2" cy="552.9" r="1.5"/><path class="s" d="M527.5 552.2h5.8m-2.9-2.9v5.8m-2.05-4.95l4.1 4.1m0-4.1l-4.1 4.1"/><circle class="sc" cx="530.4" cy="552.2" r="1.5"/><path class="s" d="M544.2 555h5.8m-2.9-2.9v5.8m-2.05-4.95l4.1 4.1m0-4.1l-4.1 4.1"/><circle class="sc" cx="547.1" cy="555" r="1.5"/><path class="s" d="M555.3 553.5h5.8m-2.9-2.9v5.8m-2.05-4.95l4.1 4.1m0-4.1l-4.1 4.1"/><circle class="sc" cx="558.2" cy="553.5" r="1.5"/><path class="s" d="M579.8 552.9h5.8m-2.9-2.9v5.8m-2.05-4.95l4.1 4.1m0-4.1l-4.1 4.1"/><circle class="sc" cx="582.7" cy="552.9" r="1.5"/><path class="s" d="M499.7 559.6h5.8m-2.9-2.9v5.8m-2.05-4.95l4.1 4.1m0-4.1l-4.1 4.1"/><circle class="sc" cx="502.6" cy="559.6" r="1.5"/><path class="s" d="M548 560.2h5.8m-2.9-2.9v5.8m-2.05-4.95l4.1 4.1m0-4.1l-4.1 4.1"/><circle class="sc" cx="550.9" cy="560.2" r="1.5"/><path class="s" d="M554.3 560.6h5.8m-2.9-2.9v5.8m-2.05-4.95l4.1 4.1m0-4.1l-4.1 4.1"/><circle class="sc" cx="557.2" cy="560.6" r="1.5"/><path class="s" d="M546.3 565.8h5.8m-2.9-2.9v5.8m-2.05-4.95l4.1 4.1m0-4.1l-4.1 4.1"/><circle class="sc" cx="549.2" cy="565.8" r="1.5"/><path class="s" d="M543.2 569.6h5.8m-2.9-2.9v5.8m-2.05-4.95l4.1 4.1m0-4.1l-4.1 4.1"/><circle class="sc" cx="546.1" cy="569.6" r="1.5"/><path class="s" d="M527.5 568.6h5.8m-2.9-2.9v5.8m-2.05-4.95l4.1 4.1m0-4.1l-4.1 4.1"/><circle class="sc" cx="530.4" cy="568.6" r="1.5"/><path class="s" d="M574.2 573.8h5.8m-2.9-2.9v5.8m-2.05-4.95l4.1 4.1m0-4.1l-4.1 4.1"/><circle class="sc" cx="577.1" cy="573.8" r="1.5"/><path class="s" d="M533.8 588.9h5.8m-2.9-2.9v5.8m-2.05-4.95l4.1 4.1m0-4.1l-4.1 4.1"/><circle class="sc" cx="536.7" cy="588.9" r="1.5"/><path class="s" d="M549.9 591h5.8m-2.9-2.9v5.8m-2.05-4.95l4.1 4.1m0-4.1l-4.1 4.1"/><circle class="sc" cx="552.8" cy="591" r="1.5"/><path class="s" d="M567.7 596.4h5.8m-2.9-2.9v5.8m-2.05-4.95l4.1 4.1m0-4.1l-4.1 4.1"/><circle class="sc" cx="570.6" cy="596.4" r="1.5"/><path class="s" d="M589.9 593h5.8m-2.9-2.9v5.8m-2.05-4.95l4.1 4.1m0-4.1l-4.1 4.1"/><circle class="sc" cx="592.8" cy="593" r="1.5"/><path class="s" d="M598 597.2h5.8m-2.9-2.9v5.8m-2.05-4.95l4.1 4.1m0-4.1l-4.1 4.1"/><circle class="sc" cx="600.9" cy="597.2" r="1.5"/><path class="s" d="M615.4 588.4h5.8m-2.9-2.9v5.8m-2.05-4.95l4.1 4.1m0-4.1l-4.1 4.1"/><circle class="sc" cx="618.3" cy="588.4" r="1.5"/><path class="s" d="M499.2 606.2h5.8m-2.9-2.9v5.8m-2.05-4.95l4.1 4.1m0-4.1l-4.1 4.1"/><circle class="sc" cx="502.1" cy="606.2" r="1.5"/><path class="s" d="M501.8 608.7h5.8m-2.9-2.9v5.8m-2.05-4.95l4.1 4.1m0-4.1l-4.1 4.1"/><circle class="sc" cx="504.7" cy="608.7" r="1.5"/><path class="s" d="M651.5 525.7h5.8m-2.9-2.9v5.8m-2.05-4.95l4.1 4.1m0-4.1l-4.1 4.1"/><circle class="sc" cx="654.4" cy="525.7" r="1.5"/><path class="s" d="M647.8 540.9h5.8m-2.9-2.9v5.8m-2.05-4.95l4.1 4.1m0-4.1l-4.1 4.1"/><circle class="sc" cx="650.7" cy="540.9" r="1.5"/><path class="s" d="M654.7 548.3h5.8m-2.9-2.9v5.8m-2.05-4.95l4.1 4.1m0-4.1l-4.1 4.1"/><circle class="sc" cx="657.6" cy="548.3" r="1.5"/><path class="s" d="M656.5 548.3h5.8m-2.9-2.9v5.8m-2.05-4.95l4.1 4.1m0-4.1l-4.1 4.1"/><circle class="sc" cx="659.4" cy="548.3" r="1.5"/><path class="s" d="M681.2 526.7h5.8m-2.9-2.9v5.8m-2.05-4.95l4.1 4.1m0-4.1l-4.1 4.1"/><circle class="sc" cx="684.1" cy="526.7" r="1.5"/><path class="s" d="M684.4 573.8h5.8m-2.9-2.9v5.8m-2.05-4.95l4.1 4.1m0-4.1l-4.1 4.1"/><circle class="sc" cx="687.3" cy="573.8" r="1.5"/><path class="s" d="M471.5 609.2h5.8m-2.9-2.9v5.8m-2.05-4.95l4.1 4.1m0-4.1l-4.1 4.1"/><circle class="sc" cx="474.4" cy="609.2" r="1.5"/><path class="s" d="M406.4 628.8h5.8m-2.9-2.9v5.8m-2.05-4.95l4.1 4.1m0-4.1l-4.1 4.1"/><circle class="sc" cx="409.3" cy="628.8" r="1.5"/>
</g>
<rect class="f" x="405.5" y="382" width="282.5" height="252.8"/>
<path class="tk" d="M479.8 634.8v5.3M557 634.8v5.3M634.2 634.8v5.3M405.5 618.9h-5.3M405.5 567.75h-5.3M405.5 516.6h-5.3M405.5 465.45h-5.3M405.5 414.3h-5.3"/>
<text class="t" x="479.8" y="657.7" text-anchor="middle">10</text><text class="t" x="557" y="657.7" text-anchor="middle">15</text><text class="t" x="634.2" y="657.7" text-anchor="middle">20</text>
<text class="t" transform="translate(394.1 618.9) rotate(-90)" text-anchor="middle">2</text><text class="t" transform="translate(394.1 567.75) rotate(-90)" text-anchor="middle">3</text><text class="t" transform="translate(394.1 516.6) rotate(-90)" text-anchor="middle">4</text><text class="t" transform="translate(394.1 465.45) rotate(-90)" text-anchor="middle">5</text><text class="t" transform="translate(394.1 414.3) rotate(-90)" text-anchor="middle">6</text>
<text class="l" style="font-size:16.2px" x="547.25" y="679.3" text-anchor="middle">y</text>
<text class="l" transform="translate(370.9 510.9) rotate(-90)" text-anchor="middle">x</text>
<text class="p" x="377" y="370.6">(d)</text>
</g>
</svg>
</body></html>
